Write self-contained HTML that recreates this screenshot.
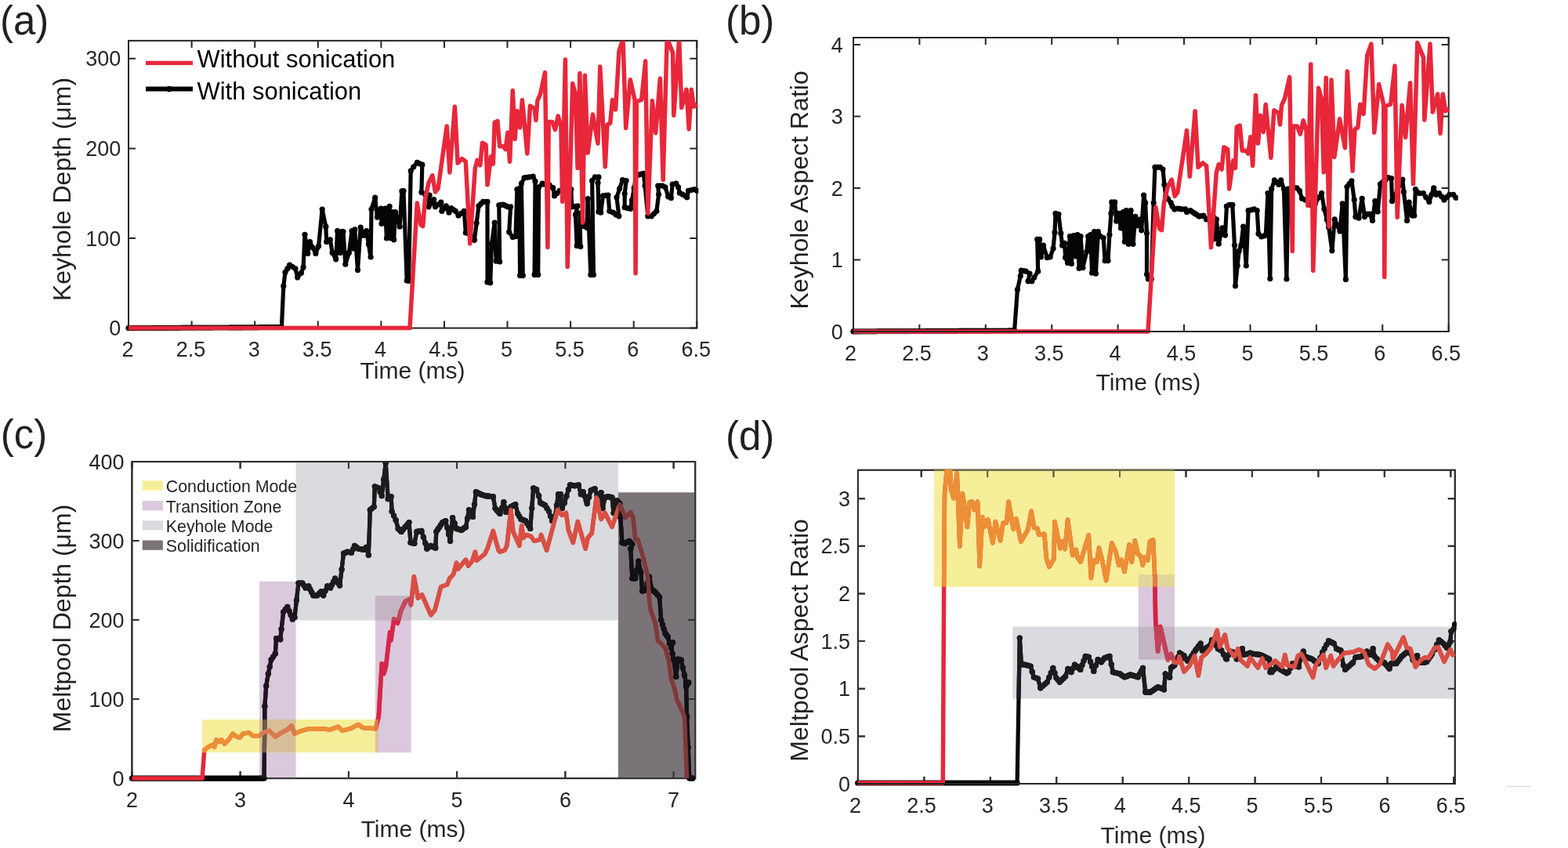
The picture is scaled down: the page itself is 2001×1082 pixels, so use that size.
<!DOCTYPE html>
<html><head><meta charset="utf-8"><title>Keyhole and meltpool plots</title><style>html,body{margin:0;padding:0;background:#fff;overflow:hidden}svg{display:block}</style></head><body>
<svg width="2001" height="1082" viewBox="0 0 2001 1082" font-family='"Liberation Sans", Arial, Helvetica, sans-serif'><defs><clipPath id="k1"><rect x="159.5" y="51.9" width="731.8" height="370.7"/></clipPath><clipPath id="k2"><rect x="1084.5" y="48.0" width="776.2" height="379.0"/></clipPath><clipPath id="k3"><rect x="163.9" y="589.1" width="725.3" height="408.0"/></clipPath><clipPath id="k4"><rect x="258.1" y="918.0" width="224.7" height="42.2"/></clipPath><clipPath id="k5"><rect x="331.1" y="742.0" width="46.5" height="251.1"/></clipPath><clipPath id="k6"><rect x="377.6" y="589.1" width="411.3" height="202.5"/></clipPath><clipPath id="k7"><rect x="478.9" y="760.2" width="45.8" height="200.0"/></clipPath><clipPath id="k8"><rect x="788.9" y="628.3" width="98.3" height="364.8"/></clipPath><clipPath id="k9"><rect x="331.1" y="918.0" width="46.5" height="42.2"/></clipPath><clipPath id="k10"><rect x="478.9" y="918.0" width="3.9" height="42.2"/></clipPath><clipPath id="k11"><rect x="478.9" y="760.2" width="45.8" height="31.4"/></clipPath><clipPath id="k12"><rect x="1090.4" y="599.8" width="768.4" height="404.2"/></clipPath><clipPath id="k13"><rect x="1191.9" y="598.8" width="307.2" height="150.0"/></clipPath><clipPath id="k14"><rect x="1452.9" y="733.1" width="46.2" height="108.5"/></clipPath><clipPath id="k15"><rect x="1292.3" y="799.6" width="564.5" height="91.9"/></clipPath><clipPath id="k16"><rect x="1452.9" y="733.1" width="46.2" height="15.7"/></clipPath><clipPath id="k17"><rect x="1452.9" y="799.6" width="46.2" height="42.0"/></clipPath></defs><rect width="2001" height="1082" fill="#fff"/><g fill="#231f20" font-size="51"><text x="0" y="43.8">(a)</text><text x="926" y="43.8">(b)</text><text x="0.8" y="572.2">(c)</text><text x="926" y="573.8">(d)</text></g>
<g fill="#262626" font-size="30"><text x="526.5" y="483.2" text-anchor="middle">Time (ms)</text><text x="1465.4" y="498.4" text-anchor="middle">Time (ms)</text><text x="527.6" y="1068.4" text-anchor="middle">Time (ms)</text><text x="1471.5" y="1075.6" text-anchor="middle">Time (ms)</text></g>
<g fill="#231f20" font-size="32"><text transform="translate(89.9,241.5) rotate(-90)" text-anchor="middle">Keyhole Depth (μm)</text><text transform="translate(1031,242.4) rotate(-90)" text-anchor="middle">Keyhole Aspect Ratio</text><text transform="translate(89.9,788.9) rotate(-90)" text-anchor="middle">Meltpool Depth (μm)</text><text transform="translate(1031.4,816.9) rotate(-90)" text-anchor="middle">Meltpool Aspect Ratio</text></g>
<g stroke="#262626" stroke-width="2" fill="none"><rect x="164.0" y="51.9" width="725.3" height="366.7"/><path d="M164.0 418.6V409.6M164.0 51.9V60.9"/><path d="M244.6 418.6V409.6M244.6 51.9V60.9"/><path d="M325.2 418.6V409.6M325.2 51.9V60.9"/><path d="M405.8 418.6V409.6M405.8 51.9V60.9"/><path d="M486.4 418.6V409.6M486.4 51.9V60.9"/><path d="M567.0 418.6V409.6M567.0 51.9V60.9"/><path d="M647.5 418.6V409.6M647.5 51.9V60.9"/><path d="M728.1 418.6V409.6M728.1 51.9V60.9"/><path d="M808.7 418.6V409.6M808.7 51.9V60.9"/><path d="M889.3 418.6V409.6M889.3 51.9V60.9"/><path d="M164.0 418.6H173.0M889.3 418.6H880.3"/><path d="M164.0 304.0H173.0M889.3 304.0H880.3"/><path d="M164.0 189.4H173.0M889.3 189.4H880.3"/><path d="M164.0 74.8H173.0M889.3 74.8H880.3"/></g><g fill="#262626" font-size="27"><text x="163.0" y="455.4" text-anchor="middle">2</text><text x="243.6" y="455.4" text-anchor="middle">2.5</text><text x="324.2" y="455.4" text-anchor="middle">3</text><text x="404.8" y="455.4" text-anchor="middle">3.5</text><text x="485.4" y="455.4" text-anchor="middle">4</text><text x="566.0" y="455.4" text-anchor="middle">4.5</text><text x="646.5" y="455.4" text-anchor="middle">5</text><text x="727.1" y="455.4" text-anchor="middle">5.5</text><text x="807.7" y="455.4" text-anchor="middle">6</text><text x="888.3" y="455.4" text-anchor="middle">6.5</text><text x="154.2" y="428.2" text-anchor="end">0</text><text x="154.2" y="313.6" text-anchor="end">100</text><text x="154.2" y="199.0" text-anchor="end">200</text><text x="154.2" y="84.4" text-anchor="end">300</text></g>
<g clip-path="url(#k1)">
<polyline points="164.0,418.6 359.4,417.6 361.8,365.0 364.0,347.4 369.6,338.2 377.0,342.8 379.7,353.9 384.4,348.3 387.1,340.9 389.0,299.3 392.7,323.4 395.5,308.6 402.9,323.4 406.6,314.1 411.2,267.0 415.8,289.2 416.7,308.6 421.3,305.8 424.1,322.4 428.7,330.8 430.6,294.7 434.3,322.4 436.1,295.6 438.0,295.6 440.8,337.2 445.4,322.4 449.1,294.7 450.9,316.9 452.8,292.9 456.5,344.6 460.2,290.1 463.9,300.3 467.6,294.7 473.1,328.0 474.0,267.0 478.7,252.2 481.4,277.1 486.1,266.0 487.0,285.5 491.6,266.0 493.4,304.0 497.1,263.3 499.0,304.0 500.8,270.7 502.7,305.8 504.5,270.7 510.1,289.2 512.9,243.9 515.0,243.5 519.2,358.0 521.6,358.5 524.2,218.1 527.7,213.0 532.3,207.4 538.8,210.2 537.9,245.3 542.5,248.0 548.1,249.0 547.1,263.8 553.6,254.5 555.5,263.8 562.8,258.2 563.8,269.3 569.3,262.8 573.0,271.2 575.8,265.6 581.3,269.3 585.0,274.9 592.4,269.3 594.3,297.0 599.8,298.0 605.4,306.3 610.9,262.8 616.5,257.3 622.0,257.3 622.0,359.9 625.7,360.8 627.5,310.9 631.2,284.1 633.1,333.1 637.7,334.0 636.8,261.9 642.3,261.0 647.9,263.8 651.6,263.8 649.7,296.1 654.3,302.6 658.0,301.7 659.9,241.6 662.7,240.7 663.6,351.6 667.3,351.6 665.4,234.2 669.1,226.8 675.6,225.9 680.2,225.0 683.0,231.4 682.1,350.6 686.7,350.6 687.6,238.8 692.2,234.2 694.1,235.1 701.1,236.0 705.7,239.7 707.6,249.9 714.0,243.4 728.8,241.6 729.7,263.8 737.1,262.8 734.4,273.9 736.2,313.7 740.8,314.6 739.9,272.1 745.5,288.7 749.1,290.6 750.1,253.6 753.8,350.6 757.5,350.6 755.6,230.5 759.3,225.9 763.9,225.9 763.0,233.3 763.9,270.2 766.7,271.2 769.5,249.9 776.0,249.0 777.8,269.3 782.4,271.2 786.1,273.9 789.8,275.8 787.0,251.8 794.4,229.6 799.1,230.5 797.2,247.1 797.2,264.7 804.6,266.5 806.5,255.5 812.0,224.0 821.2,221.3 823.1,237.0 826.8,275.8 831.4,275.8 837.9,269.3 840.6,248.1 839.7,237.0 845.3,237.0 849.0,238.8 852.7,250.8 856.4,252.7 858.2,235.1 862.8,234.2 865.6,238.8 867.4,246.2 874.8,249.9 876.7,251.8 878.5,243.4 885.9,241.6 889.6,243.4" fill="none" stroke="#050505" stroke-width="5.2" stroke-linejoin="round" stroke-linecap="butt"/>
<g fill="#050505"><circle cx="164.0" cy="418.6" r="3.6"/><circle cx="167.4" cy="418.6" r="3.6"/><circle cx="170.9" cy="418.6" r="3.6"/><circle cx="174.3" cy="418.5" r="3.6"/><circle cx="177.7" cy="418.5" r="3.6"/><circle cx="181.1" cy="418.5" r="3.6"/><circle cx="184.6" cy="418.5" r="3.6"/><circle cx="188.0" cy="418.5" r="3.6"/><circle cx="191.4" cy="418.5" r="3.6"/><circle cx="194.9" cy="418.4" r="3.6"/><circle cx="198.3" cy="418.4" r="3.6"/><circle cx="201.7" cy="418.4" r="3.6"/><circle cx="205.1" cy="418.4" r="3.6"/><circle cx="208.6" cy="418.4" r="3.6"/><circle cx="212.0" cy="418.4" r="3.6"/><circle cx="215.4" cy="418.3" r="3.6"/><circle cx="218.8" cy="418.3" r="3.6"/><circle cx="222.3" cy="418.3" r="3.6"/><circle cx="225.7" cy="418.3" r="3.6"/><circle cx="229.1" cy="418.3" r="3.6"/><circle cx="232.6" cy="418.2" r="3.6"/><circle cx="236.0" cy="418.2" r="3.6"/><circle cx="239.4" cy="418.2" r="3.6"/><circle cx="242.8" cy="418.2" r="3.6"/><circle cx="246.3" cy="418.2" r="3.6"/><circle cx="249.7" cy="418.2" r="3.6"/><circle cx="253.1" cy="418.1" r="3.6"/><circle cx="256.6" cy="418.1" r="3.6"/><circle cx="260.0" cy="418.1" r="3.6"/><circle cx="263.4" cy="418.1" r="3.6"/><circle cx="266.8" cy="418.1" r="3.6"/><circle cx="270.3" cy="418.1" r="3.6"/><circle cx="273.7" cy="418.0" r="3.6"/><circle cx="277.1" cy="418.0" r="3.6"/><circle cx="280.6" cy="418.0" r="3.6"/><circle cx="284.0" cy="418.0" r="3.6"/><circle cx="287.4" cy="418.0" r="3.6"/><circle cx="290.8" cy="418.0" r="3.6"/><circle cx="294.3" cy="417.9" r="3.6"/><circle cx="297.7" cy="417.9" r="3.6"/><circle cx="301.1" cy="417.9" r="3.6"/><circle cx="304.6" cy="417.9" r="3.6"/><circle cx="308.0" cy="417.9" r="3.6"/><circle cx="311.4" cy="417.8" r="3.6"/><circle cx="314.8" cy="417.8" r="3.6"/><circle cx="318.3" cy="417.8" r="3.6"/><circle cx="321.7" cy="417.8" r="3.6"/><circle cx="325.1" cy="417.8" r="3.6"/><circle cx="328.5" cy="417.8" r="3.6"/><circle cx="332.0" cy="417.7" r="3.6"/><circle cx="335.4" cy="417.7" r="3.6"/><circle cx="338.8" cy="417.7" r="3.6"/><circle cx="342.3" cy="417.7" r="3.6"/><circle cx="345.7" cy="417.7" r="3.6"/><circle cx="349.1" cy="417.7" r="3.6"/><circle cx="352.5" cy="417.6" r="3.6"/><circle cx="356.0" cy="417.6" r="3.6"/><circle cx="359.4" cy="417.6" r="3.6"/><circle cx="361.8" cy="365.0" r="3.6"/><circle cx="364.0" cy="347.4" r="3.6"/><circle cx="366.8" cy="342.8" r="3.6"/><circle cx="369.6" cy="338.2" r="3.6"/><circle cx="373.3" cy="340.5" r="3.6"/><circle cx="377.0" cy="342.8" r="3.6"/><circle cx="379.7" cy="353.9" r="3.6"/><circle cx="384.4" cy="348.3" r="3.6"/><circle cx="387.1" cy="340.9" r="3.6"/><circle cx="389.0" cy="299.3" r="3.6"/><circle cx="392.7" cy="323.4" r="3.6"/><circle cx="395.5" cy="308.6" r="3.6"/><circle cx="399.2" cy="316.0" r="3.6"/><circle cx="402.9" cy="323.4" r="3.6"/><circle cx="406.6" cy="314.1" r="3.6"/><circle cx="411.2" cy="267.0" r="3.6"/><circle cx="415.8" cy="289.2" r="3.6"/><circle cx="416.7" cy="308.6" r="3.6"/><circle cx="421.3" cy="305.8" r="3.6"/><circle cx="424.1" cy="322.4" r="3.6"/><circle cx="428.7" cy="330.8" r="3.6"/><circle cx="430.6" cy="294.7" r="3.6"/><circle cx="434.3" cy="322.4" r="3.6"/><circle cx="436.1" cy="295.6" r="3.6"/><circle cx="438.0" cy="295.6" r="3.6"/><circle cx="440.8" cy="337.2" r="3.6"/><circle cx="445.4" cy="322.4" r="3.6"/><circle cx="449.1" cy="294.7" r="3.6"/><circle cx="450.9" cy="316.9" r="3.6"/><circle cx="452.8" cy="292.9" r="3.6"/><circle cx="456.5" cy="344.6" r="3.6"/><circle cx="460.2" cy="290.1" r="3.6"/><circle cx="463.9" cy="300.3" r="3.6"/><circle cx="467.6" cy="294.7" r="3.6"/><circle cx="470.4" cy="311.4" r="3.6"/><circle cx="473.1" cy="328.0" r="3.6"/><circle cx="474.0" cy="267.0" r="3.6"/><circle cx="478.7" cy="252.2" r="3.6"/><circle cx="481.4" cy="277.1" r="3.6"/><circle cx="486.1" cy="266.0" r="3.6"/><circle cx="487.0" cy="285.5" r="3.6"/><circle cx="491.6" cy="266.0" r="3.6"/><circle cx="493.4" cy="304.0" r="3.6"/><circle cx="497.1" cy="263.3" r="3.6"/><circle cx="499.0" cy="304.0" r="3.6"/><circle cx="500.8" cy="270.7" r="3.6"/><circle cx="502.7" cy="305.8" r="3.6"/><circle cx="504.5" cy="270.7" r="3.6"/><circle cx="507.3" cy="279.9" r="3.6"/><circle cx="510.1" cy="289.2" r="3.6"/><circle cx="512.9" cy="243.9" r="3.6"/><circle cx="515.0" cy="243.5" r="3.6"/><circle cx="519.2" cy="358.0" r="3.6"/><circle cx="521.6" cy="358.5" r="3.6"/><circle cx="524.2" cy="218.1" r="3.6"/><circle cx="527.7" cy="213.0" r="3.6"/><circle cx="532.3" cy="207.4" r="3.6"/><circle cx="535.5" cy="208.8" r="3.6"/><circle cx="538.8" cy="210.2" r="3.6"/><circle cx="537.9" cy="245.3" r="3.6"/><circle cx="542.5" cy="248.0" r="3.6"/><circle cx="545.3" cy="248.5" r="3.6"/><circle cx="548.1" cy="249.0" r="3.6"/><circle cx="547.1" cy="263.8" r="3.6"/><circle cx="550.4" cy="259.1" r="3.6"/><circle cx="553.6" cy="254.5" r="3.6"/><circle cx="555.5" cy="263.8" r="3.6"/><circle cx="559.1" cy="261.0" r="3.6"/><circle cx="562.8" cy="258.2" r="3.6"/><circle cx="563.8" cy="269.3" r="3.6"/><circle cx="566.5" cy="266.1" r="3.6"/><circle cx="569.3" cy="262.8" r="3.6"/><circle cx="573.0" cy="271.2" r="3.6"/><circle cx="575.8" cy="265.6" r="3.6"/><circle cx="578.5" cy="267.5" r="3.6"/><circle cx="581.3" cy="269.3" r="3.6"/><circle cx="585.0" cy="274.9" r="3.6"/><circle cx="588.7" cy="272.1" r="3.6"/><circle cx="592.4" cy="269.3" r="3.6"/><circle cx="594.3" cy="297.0" r="3.6"/><circle cx="597.0" cy="297.5" r="3.6"/><circle cx="599.8" cy="298.0" r="3.6"/><circle cx="602.6" cy="302.1" r="3.6"/><circle cx="605.4" cy="306.3" r="3.6"/><circle cx="608.1" cy="284.6" r="3.6"/><circle cx="610.9" cy="262.8" r="3.6"/><circle cx="613.7" cy="260.1" r="3.6"/><circle cx="616.5" cy="257.3" r="3.6"/><circle cx="619.2" cy="257.3" r="3.6"/><circle cx="622.0" cy="257.3" r="3.6"/><circle cx="622.0" cy="359.9" r="3.6"/><circle cx="625.7" cy="360.8" r="3.6"/><circle cx="627.5" cy="310.9" r="3.6"/><circle cx="631.2" cy="284.1" r="3.6"/><circle cx="633.1" cy="333.1" r="3.6"/><circle cx="637.7" cy="334.0" r="3.6"/><circle cx="636.8" cy="261.9" r="3.6"/><circle cx="639.5" cy="261.4" r="3.6"/><circle cx="642.3" cy="261.0" r="3.6"/><circle cx="645.1" cy="262.4" r="3.6"/><circle cx="647.9" cy="263.8" r="3.6"/><circle cx="651.6" cy="263.8" r="3.6"/><circle cx="649.7" cy="296.1" r="3.6"/><circle cx="654.3" cy="302.6" r="3.6"/><circle cx="658.0" cy="301.7" r="3.6"/><circle cx="659.9" cy="241.6" r="3.6"/><circle cx="662.7" cy="240.7" r="3.6"/><circle cx="663.6" cy="351.6" r="3.6"/><circle cx="667.3" cy="351.6" r="3.6"/><circle cx="665.4" cy="234.2" r="3.6"/><circle cx="669.1" cy="226.8" r="3.6"/><circle cx="672.4" cy="226.4" r="3.6"/><circle cx="675.6" cy="225.9" r="3.6"/><circle cx="680.2" cy="225.0" r="3.6"/><circle cx="683.0" cy="231.4" r="3.6"/><circle cx="682.1" cy="350.6" r="3.6"/><circle cx="686.7" cy="350.6" r="3.6"/><circle cx="687.6" cy="238.8" r="3.6"/><circle cx="692.2" cy="234.2" r="3.6"/><circle cx="694.1" cy="235.1" r="3.6"/><circle cx="697.6" cy="235.6" r="3.6"/><circle cx="701.1" cy="236.0" r="3.6"/><circle cx="705.7" cy="239.7" r="3.6"/><circle cx="707.6" cy="249.9" r="3.6"/><circle cx="710.8" cy="246.7" r="3.6"/><circle cx="714.0" cy="243.4" r="3.6"/><circle cx="717.7" cy="242.9" r="3.6"/><circle cx="721.4" cy="242.5" r="3.6"/><circle cx="725.1" cy="242.1" r="3.6"/><circle cx="728.8" cy="241.6" r="3.6"/><circle cx="729.7" cy="263.8" r="3.6"/><circle cx="733.4" cy="263.3" r="3.6"/><circle cx="737.1" cy="262.8" r="3.6"/><circle cx="734.4" cy="273.9" r="3.6"/><circle cx="736.2" cy="313.7" r="3.6"/><circle cx="740.8" cy="314.6" r="3.6"/><circle cx="739.9" cy="272.1" r="3.6"/><circle cx="742.7" cy="280.4" r="3.6"/><circle cx="745.5" cy="288.7" r="3.6"/><circle cx="749.1" cy="290.6" r="3.6"/><circle cx="750.1" cy="253.6" r="3.6"/><circle cx="753.8" cy="350.6" r="3.6"/><circle cx="757.5" cy="350.6" r="3.6"/><circle cx="755.6" cy="230.5" r="3.6"/><circle cx="759.3" cy="225.9" r="3.6"/><circle cx="763.9" cy="225.9" r="3.6"/><circle cx="763.0" cy="233.3" r="3.6"/><circle cx="763.9" cy="270.2" r="3.6"/><circle cx="766.7" cy="271.2" r="3.6"/><circle cx="769.5" cy="249.9" r="3.6"/><circle cx="772.8" cy="249.4" r="3.6"/><circle cx="776.0" cy="249.0" r="3.6"/><circle cx="777.8" cy="269.3" r="3.6"/><circle cx="782.4" cy="271.2" r="3.6"/><circle cx="786.1" cy="273.9" r="3.6"/><circle cx="789.8" cy="275.8" r="3.6"/><circle cx="787.0" cy="251.8" r="3.6"/><circle cx="790.7" cy="240.7" r="3.6"/><circle cx="794.4" cy="229.6" r="3.6"/><circle cx="799.1" cy="230.5" r="3.6"/><circle cx="797.2" cy="247.1" r="3.6"/><circle cx="797.2" cy="264.7" r="3.6"/><circle cx="800.9" cy="265.6" r="3.6"/><circle cx="804.6" cy="266.5" r="3.6"/><circle cx="806.5" cy="255.5" r="3.6"/><circle cx="809.2" cy="239.8" r="3.6"/><circle cx="812.0" cy="224.0" r="3.6"/><circle cx="815.1" cy="223.1" r="3.6"/><circle cx="818.1" cy="222.2" r="3.6"/><circle cx="821.2" cy="221.3" r="3.6"/><circle cx="823.1" cy="237.0" r="3.6"/><circle cx="826.8" cy="275.8" r="3.6"/><circle cx="831.4" cy="275.8" r="3.6"/><circle cx="834.6" cy="272.6" r="3.6"/><circle cx="837.9" cy="269.3" r="3.6"/><circle cx="840.6" cy="248.1" r="3.6"/><circle cx="839.7" cy="237.0" r="3.6"/><circle cx="842.5" cy="237.0" r="3.6"/><circle cx="845.3" cy="237.0" r="3.6"/><circle cx="849.0" cy="238.8" r="3.6"/><circle cx="852.7" cy="250.8" r="3.6"/><circle cx="856.4" cy="252.7" r="3.6"/><circle cx="858.2" cy="235.1" r="3.6"/><circle cx="862.8" cy="234.2" r="3.6"/><circle cx="865.6" cy="238.8" r="3.6"/><circle cx="867.4" cy="246.2" r="3.6"/><circle cx="871.1" cy="248.1" r="3.6"/><circle cx="874.8" cy="249.9" r="3.6"/><circle cx="876.7" cy="251.8" r="3.6"/><circle cx="878.5" cy="243.4" r="3.6"/><circle cx="882.2" cy="242.5" r="3.6"/><circle cx="885.9" cy="241.6" r="3.6"/><circle cx="889.6" cy="243.4" r="3.6"/></g>
<polyline points="164.0,418.6 523.0,418.6 532.3,259.1 537.0,286.9 539.7,288.7 542.5,253.6 547.1,233.0 551.8,223.8 555.5,245.0 559.1,240.4 570.2,160.9 573.9,220.0 580.4,136.0 584.1,208.0 589.6,202.5 594.3,206.2 599.8,310.9 606.3,214.8 609.1,204.3 612.8,210.8 615.5,182.2 620.1,184.9 622.0,235.8 626.6,199.7 629.4,209.0 631.2,156.3 634.9,154.4 637.7,186.8 642.3,186.8 645.1,190.5 647.9,169.2 650.6,206.2 654.3,115.6 657.1,177.5 659.9,141.5 663.6,162.8 666.4,127.6 672.8,196.0 676.5,135.0 682.1,138.7 683.9,153.5 685.8,128.6 689.5,120.2 695.5,92.5 698.9,315.5 700.2,155.4 704.8,155.4 708.5,165.5 712.2,148.0 715.9,161.0 717.7,257.3 721.4,75.9 724.2,340.5 730.7,106.4 734.4,120.2 737.1,214.5 739.9,93.4 743.6,284.1 746.4,96.2 750.1,195.1 756.5,146.1 763.0,183.1 765.8,85.1 772.3,212.7 775.0,159.1 778.7,157.2 781.5,127.6 785.6,139.8 790.0,65.0 795.0,50.0 798.7,163.5 804.3,101.7 810.1,127.6 811.1,348.8 812.4,129.8 818.7,127.3 823.7,78.0 826.8,272.1 832.4,128.6 836.7,169.7 842.4,99.9 846.2,229.3 851.2,48.4 858.6,67.4 859.8,147.3 866.7,50.0 869.8,137.3 876.0,114.2 879.2,164.7 882.3,114.2 885.4,136.0 889.8,133.5" fill="none" stroke="#e8273a" stroke-width="5.5" stroke-linejoin="round" stroke-linecap="butt"/>
</g>
<line x1="186" y1="80.4" x2="246" y2="80.4" stroke="#e8273a" stroke-width="5.2"/>
<line x1="186" y1="113.6" x2="246" y2="113.6" stroke="#000" stroke-width="6"/><circle cx="216" cy="113.6" r="3.8" fill="#000"/>
<g fill="#000" font-size="30.95"><text x="251.5" y="86.1">Without sonication</text><text x="251.5" y="126.7">With sonication</text></g>
<g stroke="#262626" stroke-width="2" fill="none"><rect x="1089.0" y="48.0" width="759.7" height="375.0"/><path d="M1089.0 423.0V414.0M1089.0 48.0V57.0"/><path d="M1173.4 423.0V414.0M1173.4 48.0V57.0"/><path d="M1257.8 423.0V414.0M1257.8 48.0V57.0"/><path d="M1342.2 423.0V414.0M1342.2 48.0V57.0"/><path d="M1426.6 423.0V414.0M1426.6 48.0V57.0"/><path d="M1511.0 423.0V414.0M1511.0 48.0V57.0"/><path d="M1595.5 423.0V414.0M1595.5 48.0V57.0"/><path d="M1679.9 423.0V414.0M1679.9 48.0V57.0"/><path d="M1764.3 423.0V414.0M1764.3 48.0V57.0"/><path d="M1848.7 423.0V414.0M1848.7 48.0V57.0"/><path d="M1089.0 423.0H1098.0M1848.7 423.0H1839.7"/><path d="M1089.0 331.5H1098.0M1848.7 331.5H1839.7"/><path d="M1089.0 240.1H1098.0M1848.7 240.1H1839.7"/><path d="M1089.0 148.6H1098.0M1848.7 148.6H1839.7"/><path d="M1089.0 57.1H1098.0M1848.7 57.1H1839.7"/></g><g fill="#262626" font-size="27"><text x="1085.5" y="459.8" text-anchor="middle">2</text><text x="1169.9" y="459.8" text-anchor="middle">2.5</text><text x="1254.3" y="459.8" text-anchor="middle">3</text><text x="1338.7" y="459.8" text-anchor="middle">3.5</text><text x="1423.1" y="459.8" text-anchor="middle">4</text><text x="1507.5" y="459.8" text-anchor="middle">4.5</text><text x="1592.0" y="459.8" text-anchor="middle">5</text><text x="1676.4" y="459.8" text-anchor="middle">5.5</text><text x="1760.8" y="459.8" text-anchor="middle">6</text><text x="1845.2" y="459.8" text-anchor="middle">6.5</text><text x="1075.8" y="432.6" text-anchor="end">0</text><text x="1075.8" y="341.1" text-anchor="end">1</text><text x="1075.8" y="249.7" text-anchor="end">2</text><text x="1075.8" y="158.2" text-anchor="end">3</text><text x="1075.8" y="66.7" text-anchor="end">4</text></g>
<g clip-path="url(#k2)">
<polyline points="1089.0,422.9 1294.6,421.9 1298.4,369.5 1302.3,352.0 1303.3,345.2 1309.1,346.2 1314.0,349.1 1312.0,358.8 1316.9,358.8 1319.8,354.0 1324.7,346.2 1323.7,305.4 1326.6,305.4 1328.5,327.8 1331.5,313.2 1336.3,328.7 1340.2,327.8 1344.1,317.1 1346.0,296.7 1347.0,272.4 1350.9,273.4 1353.8,297.7 1355.7,313.2 1358.6,310.3 1359.6,328.7 1362.5,335.5 1365.4,301.6 1367.4,336.5 1370.3,300.6 1373.2,326.8 1375.1,299.6 1377.1,342.3 1379.0,301.6 1381.9,341.4 1386.8,321.0 1388.7,301.6 1391.7,299.6 1393.6,348.2 1396.5,295.7 1398.4,349.1 1401.4,295.7 1404.3,301.6 1408.2,303.5 1410.1,332.6 1414.0,332.6 1415.9,299.6 1417.9,272.4 1418.8,257.9 1422.7,257.9 1424.7,282.1 1427.6,272.4 1430.5,290.9 1433.4,270.5 1435.3,308.3 1437.3,268.5 1440.2,311.3 1443.1,268.5 1446.0,311.3 1448.9,276.3 1451.8,288.0 1454.8,280.2 1456.7,293.8 1459.6,249.1 1461.6,258.8 1463.5,297.7 1463.5,350.1 1465.4,355.9 1469.3,355.9 1472.2,258.8 1473.9,213.3 1480.3,213.3 1484.0,216.0 1485.9,235.5 1487.7,250.2 1490.5,253.9 1494.2,258.6 1496.0,263.2 1498.8,266.9 1502.5,266.0 1508.1,266.9 1512.7,266.9 1514.5,270.6 1519.1,268.7 1524.7,272.4 1530.2,276.1 1535.8,275.2 1539.5,279.8 1545.0,278.0 1548.7,277.0 1550.0,305.0 1552.4,279.8 1555.2,311.2 1559.8,290.9 1563.5,300.1 1565.4,263.2 1569.1,261.3 1572.8,261.3 1575.5,313.1 1576.5,364.8 1579.2,339.0 1581.1,320.5 1583.8,313.1 1586.6,289.1 1590.3,339.0 1593.1,268.7 1600.5,266.9 1604.2,268.7 1606.0,298.3 1609.7,302.0 1615.3,300.1 1618.0,246.5 1620.8,355.6 1622.7,241.0 1626.4,229.9 1631.9,235.5 1634.7,229.9 1638.4,241.0 1641.9,356.0 1643.9,241.0 1648.5,239.1 1655.0,239.9 1658.3,243.3 1661.6,253.3 1665.8,254.9 1673.3,261.6 1678.3,259.9 1683.3,251.6 1686.6,246.6 1689.9,266.6 1693.3,279.9 1695.7,289.9 1699.9,319.8 1703.2,279.9 1709.9,294.9 1713.2,259.9 1717.4,356.4 1719.0,238.3 1724.9,230.8 1728.2,254.9 1729.9,276.6 1734.0,278.2 1738.2,253.3 1741.5,276.6 1744.8,273.2 1748.2,273.2 1751.5,281.5 1754.8,256.6 1758.2,269.9 1761.5,234.9 1771.5,226.6 1775.6,227.5 1776.5,256.6 1789.8,229.1 1791.4,244.9 1795.6,281.5 1798.1,258.2 1802.3,274.9 1804.8,274.9 1806.4,241.6 1811.4,246.6 1816.4,246.6 1819.7,251.6 1823.9,257.4 1829.7,239.9 1833.0,248.3 1836.4,246.6 1843.0,254.9 1849.7,248.3 1854.7,248.3 1858.0,252.4" fill="none" stroke="#050505" stroke-width="5.2" stroke-linejoin="round" stroke-linecap="butt"/>
<g fill="#050505"><circle cx="1089.0" cy="422.9" r="3.6"/><circle cx="1092.5" cy="422.9" r="3.6"/><circle cx="1096.0" cy="422.9" r="3.6"/><circle cx="1099.5" cy="422.8" r="3.6"/><circle cx="1102.9" cy="422.8" r="3.6"/><circle cx="1106.4" cy="422.8" r="3.6"/><circle cx="1109.9" cy="422.8" r="3.6"/><circle cx="1113.4" cy="422.8" r="3.6"/><circle cx="1116.9" cy="422.8" r="3.6"/><circle cx="1120.4" cy="422.7" r="3.6"/><circle cx="1123.8" cy="422.7" r="3.6"/><circle cx="1127.3" cy="422.7" r="3.6"/><circle cx="1130.8" cy="422.7" r="3.6"/><circle cx="1134.3" cy="422.7" r="3.6"/><circle cx="1137.8" cy="422.7" r="3.6"/><circle cx="1141.3" cy="422.6" r="3.6"/><circle cx="1144.8" cy="422.6" r="3.6"/><circle cx="1148.2" cy="422.6" r="3.6"/><circle cx="1151.7" cy="422.6" r="3.6"/><circle cx="1155.2" cy="422.6" r="3.6"/><circle cx="1158.7" cy="422.6" r="3.6"/><circle cx="1162.2" cy="422.5" r="3.6"/><circle cx="1165.7" cy="422.5" r="3.6"/><circle cx="1169.1" cy="422.5" r="3.6"/><circle cx="1172.6" cy="422.5" r="3.6"/><circle cx="1176.1" cy="422.5" r="3.6"/><circle cx="1179.6" cy="422.5" r="3.6"/><circle cx="1183.1" cy="422.4" r="3.6"/><circle cx="1186.6" cy="422.4" r="3.6"/><circle cx="1190.1" cy="422.4" r="3.6"/><circle cx="1193.5" cy="422.4" r="3.6"/><circle cx="1197.0" cy="422.4" r="3.6"/><circle cx="1200.5" cy="422.4" r="3.6"/><circle cx="1204.0" cy="422.3" r="3.6"/><circle cx="1207.5" cy="422.3" r="3.6"/><circle cx="1211.0" cy="422.3" r="3.6"/><circle cx="1214.5" cy="422.3" r="3.6"/><circle cx="1217.9" cy="422.3" r="3.6"/><circle cx="1221.4" cy="422.3" r="3.6"/><circle cx="1224.9" cy="422.2" r="3.6"/><circle cx="1228.4" cy="422.2" r="3.6"/><circle cx="1231.9" cy="422.2" r="3.6"/><circle cx="1235.4" cy="422.2" r="3.6"/><circle cx="1238.8" cy="422.2" r="3.6"/><circle cx="1242.3" cy="422.2" r="3.6"/><circle cx="1245.8" cy="422.1" r="3.6"/><circle cx="1249.3" cy="422.1" r="3.6"/><circle cx="1252.8" cy="422.1" r="3.6"/><circle cx="1256.3" cy="422.1" r="3.6"/><circle cx="1259.8" cy="422.1" r="3.6"/><circle cx="1263.2" cy="422.1" r="3.6"/><circle cx="1266.7" cy="422.0" r="3.6"/><circle cx="1270.2" cy="422.0" r="3.6"/><circle cx="1273.7" cy="422.0" r="3.6"/><circle cx="1277.2" cy="422.0" r="3.6"/><circle cx="1280.7" cy="422.0" r="3.6"/><circle cx="1284.1" cy="422.0" r="3.6"/><circle cx="1287.6" cy="421.9" r="3.6"/><circle cx="1291.1" cy="421.9" r="3.6"/><circle cx="1294.6" cy="421.9" r="3.6"/><circle cx="1298.4" cy="369.5" r="3.6"/><circle cx="1302.3" cy="352.0" r="3.6"/><circle cx="1303.3" cy="345.2" r="3.6"/><circle cx="1306.2" cy="345.7" r="3.6"/><circle cx="1309.1" cy="346.2" r="3.6"/><circle cx="1314.0" cy="349.1" r="3.6"/><circle cx="1312.0" cy="358.8" r="3.6"/><circle cx="1316.9" cy="358.8" r="3.6"/><circle cx="1319.8" cy="354.0" r="3.6"/><circle cx="1324.7" cy="346.2" r="3.6"/><circle cx="1323.7" cy="305.4" r="3.6"/><circle cx="1326.6" cy="305.4" r="3.6"/><circle cx="1328.5" cy="327.8" r="3.6"/><circle cx="1331.5" cy="313.2" r="3.6"/><circle cx="1336.3" cy="328.7" r="3.6"/><circle cx="1340.2" cy="327.8" r="3.6"/><circle cx="1344.1" cy="317.1" r="3.6"/><circle cx="1346.0" cy="296.7" r="3.6"/><circle cx="1347.0" cy="272.4" r="3.6"/><circle cx="1350.9" cy="273.4" r="3.6"/><circle cx="1353.8" cy="297.7" r="3.6"/><circle cx="1355.7" cy="313.2" r="3.6"/><circle cx="1358.6" cy="310.3" r="3.6"/><circle cx="1359.6" cy="328.7" r="3.6"/><circle cx="1362.5" cy="335.5" r="3.6"/><circle cx="1365.4" cy="301.6" r="3.6"/><circle cx="1367.4" cy="336.5" r="3.6"/><circle cx="1370.3" cy="300.6" r="3.6"/><circle cx="1373.2" cy="326.8" r="3.6"/><circle cx="1375.1" cy="299.6" r="3.6"/><circle cx="1377.1" cy="342.3" r="3.6"/><circle cx="1379.0" cy="301.6" r="3.6"/><circle cx="1381.9" cy="341.4" r="3.6"/><circle cx="1386.8" cy="321.0" r="3.6"/><circle cx="1388.7" cy="301.6" r="3.6"/><circle cx="1391.7" cy="299.6" r="3.6"/><circle cx="1393.6" cy="348.2" r="3.6"/><circle cx="1396.5" cy="295.7" r="3.6"/><circle cx="1398.4" cy="349.1" r="3.6"/><circle cx="1401.4" cy="295.7" r="3.6"/><circle cx="1404.3" cy="301.6" r="3.6"/><circle cx="1408.2" cy="303.5" r="3.6"/><circle cx="1410.1" cy="332.6" r="3.6"/><circle cx="1414.0" cy="332.6" r="3.6"/><circle cx="1415.9" cy="299.6" r="3.6"/><circle cx="1417.9" cy="272.4" r="3.6"/><circle cx="1418.8" cy="257.9" r="3.6"/><circle cx="1422.7" cy="257.9" r="3.6"/><circle cx="1424.7" cy="282.1" r="3.6"/><circle cx="1427.6" cy="272.4" r="3.6"/><circle cx="1430.5" cy="290.9" r="3.6"/><circle cx="1433.4" cy="270.5" r="3.6"/><circle cx="1435.3" cy="308.3" r="3.6"/><circle cx="1437.3" cy="268.5" r="3.6"/><circle cx="1440.2" cy="311.3" r="3.6"/><circle cx="1443.1" cy="268.5" r="3.6"/><circle cx="1446.0" cy="311.3" r="3.6"/><circle cx="1448.9" cy="276.3" r="3.6"/><circle cx="1451.8" cy="288.0" r="3.6"/><circle cx="1454.8" cy="280.2" r="3.6"/><circle cx="1456.7" cy="293.8" r="3.6"/><circle cx="1459.6" cy="249.1" r="3.6"/><circle cx="1461.6" cy="258.8" r="3.6"/><circle cx="1463.5" cy="297.7" r="3.6"/><circle cx="1463.5" cy="350.1" r="3.6"/><circle cx="1465.4" cy="355.9" r="3.6"/><circle cx="1469.3" cy="355.9" r="3.6"/><circle cx="1472.2" cy="258.8" r="3.6"/><circle cx="1473.9" cy="213.3" r="3.6"/><circle cx="1477.1" cy="213.3" r="3.6"/><circle cx="1480.3" cy="213.3" r="3.6"/><circle cx="1484.0" cy="216.0" r="3.6"/><circle cx="1485.9" cy="235.5" r="3.6"/><circle cx="1487.7" cy="250.2" r="3.6"/><circle cx="1490.5" cy="253.9" r="3.6"/><circle cx="1494.2" cy="258.6" r="3.6"/><circle cx="1496.0" cy="263.2" r="3.6"/><circle cx="1498.8" cy="266.9" r="3.6"/><circle cx="1502.5" cy="266.0" r="3.6"/><circle cx="1505.3" cy="266.4" r="3.6"/><circle cx="1508.1" cy="266.9" r="3.6"/><circle cx="1512.7" cy="266.9" r="3.6"/><circle cx="1514.5" cy="270.6" r="3.6"/><circle cx="1519.1" cy="268.7" r="3.6"/><circle cx="1521.9" cy="270.5" r="3.6"/><circle cx="1524.7" cy="272.4" r="3.6"/><circle cx="1527.5" cy="274.2" r="3.6"/><circle cx="1530.2" cy="276.1" r="3.6"/><circle cx="1533.0" cy="275.6" r="3.6"/><circle cx="1535.8" cy="275.2" r="3.6"/><circle cx="1539.5" cy="279.8" r="3.6"/><circle cx="1542.2" cy="278.9" r="3.6"/><circle cx="1545.0" cy="278.0" r="3.6"/><circle cx="1548.7" cy="277.0" r="3.6"/><circle cx="1550.0" cy="305.0" r="3.6"/><circle cx="1552.4" cy="279.8" r="3.6"/><circle cx="1555.2" cy="311.2" r="3.6"/><circle cx="1559.8" cy="290.9" r="3.6"/><circle cx="1563.5" cy="300.1" r="3.6"/><circle cx="1565.4" cy="263.2" r="3.6"/><circle cx="1569.1" cy="261.3" r="3.6"/><circle cx="1572.8" cy="261.3" r="3.6"/><circle cx="1575.5" cy="313.1" r="3.6"/><circle cx="1576.5" cy="364.8" r="3.6"/><circle cx="1579.2" cy="339.0" r="3.6"/><circle cx="1581.1" cy="320.5" r="3.6"/><circle cx="1583.8" cy="313.1" r="3.6"/><circle cx="1586.6" cy="289.1" r="3.6"/><circle cx="1590.3" cy="339.0" r="3.6"/><circle cx="1593.1" cy="268.7" r="3.6"/><circle cx="1596.8" cy="267.8" r="3.6"/><circle cx="1600.5" cy="266.9" r="3.6"/><circle cx="1604.2" cy="268.7" r="3.6"/><circle cx="1606.0" cy="298.3" r="3.6"/><circle cx="1609.7" cy="302.0" r="3.6"/><circle cx="1612.5" cy="301.1" r="3.6"/><circle cx="1615.3" cy="300.1" r="3.6"/><circle cx="1618.0" cy="246.5" r="3.6"/><circle cx="1620.8" cy="355.6" r="3.6"/><circle cx="1622.7" cy="241.0" r="3.6"/><circle cx="1626.4" cy="229.9" r="3.6"/><circle cx="1629.2" cy="232.7" r="3.6"/><circle cx="1631.9" cy="235.5" r="3.6"/><circle cx="1634.7" cy="229.9" r="3.6"/><circle cx="1638.4" cy="241.0" r="3.6"/><circle cx="1641.9" cy="356.0" r="3.6"/><circle cx="1643.9" cy="241.0" r="3.6"/><circle cx="1648.5" cy="239.1" r="3.6"/><circle cx="1651.8" cy="239.5" r="3.6"/><circle cx="1655.0" cy="239.9" r="3.6"/><circle cx="1658.3" cy="243.3" r="3.6"/><circle cx="1661.6" cy="253.3" r="3.6"/><circle cx="1665.8" cy="254.9" r="3.6"/><circle cx="1669.5" cy="258.2" r="3.6"/><circle cx="1673.3" cy="261.6" r="3.6"/><circle cx="1678.3" cy="259.9" r="3.6"/><circle cx="1683.3" cy="251.6" r="3.6"/><circle cx="1686.6" cy="246.6" r="3.6"/><circle cx="1689.9" cy="266.6" r="3.6"/><circle cx="1693.3" cy="279.9" r="3.6"/><circle cx="1695.7" cy="289.9" r="3.6"/><circle cx="1699.9" cy="319.8" r="3.6"/><circle cx="1703.2" cy="279.9" r="3.6"/><circle cx="1706.6" cy="287.4" r="3.6"/><circle cx="1709.9" cy="294.9" r="3.6"/><circle cx="1713.2" cy="259.9" r="3.6"/><circle cx="1717.4" cy="356.4" r="3.6"/><circle cx="1719.0" cy="238.3" r="3.6"/><circle cx="1722.0" cy="234.6" r="3.6"/><circle cx="1724.9" cy="230.8" r="3.6"/><circle cx="1728.2" cy="254.9" r="3.6"/><circle cx="1729.9" cy="276.6" r="3.6"/><circle cx="1734.0" cy="278.2" r="3.6"/><circle cx="1738.2" cy="253.3" r="3.6"/><circle cx="1741.5" cy="276.6" r="3.6"/><circle cx="1744.8" cy="273.2" r="3.6"/><circle cx="1748.2" cy="273.2" r="3.6"/><circle cx="1751.5" cy="281.5" r="3.6"/><circle cx="1754.8" cy="256.6" r="3.6"/><circle cx="1758.2" cy="269.9" r="3.6"/><circle cx="1761.5" cy="234.9" r="3.6"/><circle cx="1764.8" cy="232.1" r="3.6"/><circle cx="1768.2" cy="229.4" r="3.6"/><circle cx="1771.5" cy="226.6" r="3.6"/><circle cx="1775.6" cy="227.5" r="3.6"/><circle cx="1776.5" cy="256.6" r="3.6"/><circle cx="1779.8" cy="249.7" r="3.6"/><circle cx="1783.2" cy="242.9" r="3.6"/><circle cx="1786.5" cy="236.0" r="3.6"/><circle cx="1789.8" cy="229.1" r="3.6"/><circle cx="1791.4" cy="244.9" r="3.6"/><circle cx="1795.6" cy="281.5" r="3.6"/><circle cx="1798.1" cy="258.2" r="3.6"/><circle cx="1802.3" cy="274.9" r="3.6"/><circle cx="1804.8" cy="274.9" r="3.6"/><circle cx="1806.4" cy="241.6" r="3.6"/><circle cx="1811.4" cy="246.6" r="3.6"/><circle cx="1816.4" cy="246.6" r="3.6"/><circle cx="1819.7" cy="251.6" r="3.6"/><circle cx="1823.9" cy="257.4" r="3.6"/><circle cx="1826.8" cy="248.6" r="3.6"/><circle cx="1829.7" cy="239.9" r="3.6"/><circle cx="1833.0" cy="248.3" r="3.6"/><circle cx="1836.4" cy="246.6" r="3.6"/><circle cx="1839.7" cy="250.8" r="3.6"/><circle cx="1843.0" cy="254.9" r="3.6"/><circle cx="1846.3" cy="251.6" r="3.6"/><circle cx="1849.7" cy="248.3" r="3.6"/><circle cx="1854.7" cy="248.3" r="3.6"/><circle cx="1858.0" cy="252.4" r="3.6"/></g>
<polyline points="1089.0,423.0 1465.0,423.0 1474.8,264.2 1479.7,291.9 1482.5,293.7 1485.4,258.8 1490.3,238.3 1495.2,229.1 1499.1,250.2 1502.8,245.6 1514.5,166.5 1518.3,225.3 1525.1,141.7 1529.0,213.4 1534.8,207.9 1539.7,211.6 1545.5,315.8 1552.3,220.1 1555.2,209.7 1559.1,216.2 1561.9,187.7 1566.7,190.4 1568.7,241.0 1573.5,205.1 1576.5,214.4 1578.3,161.9 1582.2,160.0 1585.2,192.3 1590.0,192.3 1592.9,196.0 1595.8,174.8 1598.7,211.6 1602.5,121.4 1605.5,183.0 1608.4,147.2 1612.3,168.4 1615.2,133.3 1621.9,201.4 1625.8,140.7 1631.7,144.4 1633.5,159.1 1635.5,134.3 1639.4,126.0 1645.7,98.4 1649.3,320.4 1650.6,161.0 1655.4,161.0 1659.3,171.1 1663.2,153.7 1667.1,166.6 1668.9,262.4 1672.8,81.9 1675.8,345.3 1682.6,112.2 1686.4,126.0 1689.3,219.8 1692.2,99.3 1696.1,289.1 1699.0,102.1 1702.9,200.5 1709.6,151.8 1716.4,188.6 1719.3,91.0 1726.1,218.1 1729.0,164.7 1732.8,162.8 1735.8,133.3 1740.1,145.5 1744.7,71.0 1749.9,56.1 1753.8,169.1 1759.7,107.6 1765.7,133.3 1766.8,353.5 1768.1,135.5 1774.7,133.0 1780.0,84.0 1783.2,277.2 1789.1,134.3 1793.6,175.3 1799.6,105.8 1803.5,234.6 1808.8,54.5 1816.5,73.4 1817.8,153.0 1825.0,56.1 1828.3,143.0 1834.7,120.0 1838.1,170.3 1841.3,120.0 1844.6,141.7 1849.2,139.2" fill="none" stroke="#e8273a" stroke-width="5.5" stroke-linejoin="round" stroke-linecap="butt"/>
</g>
<line x1="1089.0" y1="423.0" x2="1848.7" y2="423.0" stroke="#262626" stroke-width="1.8"/>
<g stroke="#262626" stroke-width="2" fill="none"><rect x="168.4" y="589.1" width="718.8" height="404.0"/><path d="M168.4 993.1V984.1M168.4 589.1V598.1"/><path d="M306.6 993.1V984.1M306.6 589.1V598.1"/><path d="M444.9 993.1V984.1M444.9 589.1V598.1"/><path d="M583.1 993.1V984.1M583.1 589.1V598.1"/><path d="M721.4 993.1V984.1M721.4 589.1V598.1"/><path d="M859.6 993.1V984.1M859.6 589.1V598.1"/><path d="M168.4 993.1H177.4M887.2 993.1H878.2"/><path d="M168.4 892.1H177.4M887.2 892.1H878.2"/><path d="M168.4 791.1H177.4M887.2 791.1H878.2"/><path d="M168.4 690.1H177.4M887.2 690.1H878.2"/><path d="M168.4 589.1H177.4M887.2 589.1H878.2"/></g><g fill="#262626" font-size="27"><text x="168.4" y="1029.9" text-anchor="middle">2</text><text x="306.6" y="1029.9" text-anchor="middle">3</text><text x="444.9" y="1029.9" text-anchor="middle">4</text><text x="583.1" y="1029.9" text-anchor="middle">5</text><text x="721.4" y="1029.9" text-anchor="middle">6</text><text x="859.6" y="1029.9" text-anchor="middle">7</text><text x="158.6" y="1002.7" text-anchor="end">0</text><text x="158.6" y="901.7" text-anchor="end">100</text><text x="158.6" y="800.7" text-anchor="end">200</text><text x="158.6" y="699.7" text-anchor="end">300</text><text x="158.6" y="598.7" text-anchor="end">400</text></g>
<rect x="331.1" y="742.0" width="46.5" height="251.1" fill="#dac8dc"/>
<rect x="258.1" y="918.0" width="224.7" height="42.2" fill="#f7ee9a"/>
<rect x="377.6" y="589.1" width="411.3" height="202.5" fill="#dadbde"/>
<rect x="478.9" y="760.2" width="45.8" height="200.0" fill="#dac8dc"/>
<rect x="788.9" y="628.3" width="98.3" height="364.8" fill="#7a7479"/>
<rect x="331.1" y="918.0" width="46.5" height="42.2" fill="#d8be98"/>
<rect x="478.9" y="918.0" width="3.9" height="42.2" fill="#dcc29c"/>
<rect x="478.9" y="760.2" width="45.8" height="31.4" fill="#c4b4c4"/>
<g stroke="#303032" stroke-width="2" fill="none"><rect x="168.4" y="589.1" width="718.8" height="404.0"/><path d="M168.4 993.1V984.1M168.4 589.1V598.1"/><path d="M306.6 993.1V984.1M306.6 589.1V598.1"/><path d="M444.9 993.1V984.1M444.9 589.1V598.1"/><path d="M583.1 993.1V984.1M583.1 589.1V598.1"/><path d="M721.4 993.1V984.1M721.4 589.1V598.1"/><path d="M859.6 993.1V984.1M859.6 589.1V598.1"/><path d="M168.4 993.1H177.4M887.2 993.1H878.2"/><path d="M168.4 892.1H177.4M887.2 892.1H878.2"/><path d="M168.4 791.1H177.4M887.2 791.1H878.2"/><path d="M168.4 690.1H177.4M887.2 690.1H878.2"/><path d="M168.4 589.1H177.4M887.2 589.1H878.2"/></g>
<g clip-path="url(#k3)">
<polyline points="168.4,993.1 337.1,993.1 337.9,901.2 339.7,875.3 342.3,859.8 346.1,841.7 351.3,833.9 352.6,814.5 357.8,815.8 359.1,802.8 361.7,780.8 366.8,774.4 373.3,789.9 376.0,787.7 380.9,744.0 385.9,744.0 389.9,749.9 393.8,747.9 399.8,759.8 404.8,759.8 409.7,754.9 412.7,759.8 417.7,747.9 421.7,749.9 427.6,738.0 433.6,746.9 438.5,706.2 443.5,704.2 448.5,705.2 452.5,696.3 457.4,700.2 464.4,701.2 467.4,698.3 470.3,708.2 472.3,650.6 477.3,646.6 478.3,620.8 483.3,622.8 487.2,632.7 492.2,591.0 495.2,636.7 499.1,633.7 500.1,652.6 505.1,663.5 508.1,674.4 512.1,678.4 517.0,672.4 522.0,666.5 524.0,692.3 528.9,693.3 531.9,678.4 537.9,677.4 542.9,693.3 544.8,700.2 549.8,696.3 555.8,699.2 556.8,678.4 564.7,666.5 568.7,664.5 574.6,690.3 577.6,660.5 582.6,674.4 588.6,676.4 594.5,672.4 598.5,650.6 603.5,659.5 607.4,627.7 613.4,630.7 619.4,632.7 629.3,633.7 632.0,648.6 638.0,655.5 642.9,640.6 645.9,653.5 651.9,646.6 657.8,643.6 660.8,655.5 664.8,662.5 670.7,664.5 676.7,674.4 680.7,622.8 684.6,624.7 687.6,632.7 689.6,641.6 695.6,644.6 700.5,652.6 704.5,664.5 708.5,658.5 712.5,630.7 715.4,630.7 717.4,648.6 720.4,641.6 725.4,624.7 727.4,618.8 733.3,619.8 738.3,618.8 741.3,630.7 744.2,627.7 748.2,638.6 749.2,642.6 754.2,625.7 759.1,623.7 762.1,632.7 767.1,628.7 769.1,648.6 772.1,634.7 776.0,633.7 781.0,634.7 783.0,654.5 787.0,638.6 790.9,642.6 791.9,660.5 793.9,692.3 797.9,693.3 802.9,690.3 806.8,694.3 804.8,700.2 806.8,738.0 810.8,738.0 814.8,716.1 817.8,730.0 819.7,753.9 823.7,752.9 828.7,736.0 831.7,751.9 836.6,755.9 841.6,761.8 843.7,791.2 849.0,808.2 852.2,812.5 854.3,821.0 858.6,819.9 856.5,826.3 859.7,841.2 862.8,863.5 865.0,841.2 869.2,842.2 871.3,851.8 873.5,861.3 875.6,872.0 878.8,870.9 875.6,876.2 876.6,914.4 879.8,993.1 884.1,993.1" fill="none" stroke="#050505" stroke-width="5.2" stroke-linejoin="round" stroke-linecap="butt"/>
<g fill="#050505"><circle cx="168.4" cy="993.1" r="3.6"/><circle cx="170.5" cy="993.1" r="3.6"/><circle cx="172.6" cy="993.1" r="3.6"/><circle cx="174.7" cy="993.1" r="3.6"/><circle cx="176.8" cy="993.1" r="3.6"/><circle cx="178.9" cy="993.1" r="3.6"/><circle cx="181.1" cy="993.1" r="3.6"/><circle cx="183.2" cy="993.1" r="3.6"/><circle cx="185.3" cy="993.1" r="3.6"/><circle cx="187.4" cy="993.1" r="3.6"/><circle cx="189.5" cy="993.1" r="3.6"/><circle cx="191.6" cy="993.1" r="3.6"/><circle cx="193.7" cy="993.1" r="3.6"/><circle cx="195.8" cy="993.1" r="3.6"/><circle cx="197.9" cy="993.1" r="3.6"/><circle cx="200.0" cy="993.1" r="3.6"/><circle cx="202.1" cy="993.1" r="3.6"/><circle cx="204.2" cy="993.1" r="3.6"/><circle cx="206.4" cy="993.1" r="3.6"/><circle cx="208.5" cy="993.1" r="3.6"/><circle cx="210.6" cy="993.1" r="3.6"/><circle cx="212.7" cy="993.1" r="3.6"/><circle cx="214.8" cy="993.1" r="3.6"/><circle cx="216.9" cy="993.1" r="3.6"/><circle cx="219.0" cy="993.1" r="3.6"/><circle cx="221.1" cy="993.1" r="3.6"/><circle cx="223.2" cy="993.1" r="3.6"/><circle cx="225.3" cy="993.1" r="3.6"/><circle cx="227.4" cy="993.1" r="3.6"/><circle cx="229.6" cy="993.1" r="3.6"/><circle cx="231.7" cy="993.1" r="3.6"/><circle cx="233.8" cy="993.1" r="3.6"/><circle cx="235.9" cy="993.1" r="3.6"/><circle cx="238.0" cy="993.1" r="3.6"/><circle cx="240.1" cy="993.1" r="3.6"/><circle cx="242.2" cy="993.1" r="3.6"/><circle cx="244.3" cy="993.1" r="3.6"/><circle cx="246.4" cy="993.1" r="3.6"/><circle cx="248.5" cy="993.1" r="3.6"/><circle cx="250.6" cy="993.1" r="3.6"/><circle cx="252.8" cy="993.1" r="3.6"/><circle cx="254.9" cy="993.1" r="3.6"/><circle cx="257.0" cy="993.1" r="3.6"/><circle cx="259.1" cy="993.1" r="3.6"/><circle cx="261.2" cy="993.1" r="3.6"/><circle cx="263.3" cy="993.1" r="3.6"/><circle cx="265.4" cy="993.1" r="3.6"/><circle cx="267.5" cy="993.1" r="3.6"/><circle cx="269.6" cy="993.1" r="3.6"/><circle cx="271.7" cy="993.1" r="3.6"/><circle cx="273.8" cy="993.1" r="3.6"/><circle cx="275.9" cy="993.1" r="3.6"/><circle cx="278.1" cy="993.1" r="3.6"/><circle cx="280.2" cy="993.1" r="3.6"/><circle cx="282.3" cy="993.1" r="3.6"/><circle cx="284.4" cy="993.1" r="3.6"/><circle cx="286.5" cy="993.1" r="3.6"/><circle cx="288.6" cy="993.1" r="3.6"/><circle cx="290.7" cy="993.1" r="3.6"/><circle cx="292.8" cy="993.1" r="3.6"/><circle cx="294.9" cy="993.1" r="3.6"/><circle cx="297.0" cy="993.1" r="3.6"/><circle cx="299.1" cy="993.1" r="3.6"/><circle cx="301.3" cy="993.1" r="3.6"/><circle cx="303.4" cy="993.1" r="3.6"/><circle cx="305.5" cy="993.1" r="3.6"/><circle cx="307.6" cy="993.1" r="3.6"/><circle cx="309.7" cy="993.1" r="3.6"/><circle cx="311.8" cy="993.1" r="3.6"/><circle cx="313.9" cy="993.1" r="3.6"/><circle cx="316.0" cy="993.1" r="3.6"/><circle cx="318.1" cy="993.1" r="3.6"/><circle cx="320.2" cy="993.1" r="3.6"/><circle cx="322.3" cy="993.1" r="3.6"/><circle cx="324.4" cy="993.1" r="3.6"/><circle cx="326.6" cy="993.1" r="3.6"/><circle cx="328.7" cy="993.1" r="3.6"/><circle cx="330.8" cy="993.1" r="3.6"/><circle cx="332.9" cy="993.1" r="3.6"/><circle cx="335.0" cy="993.1" r="3.6"/><circle cx="337.1" cy="993.1" r="3.6"/><circle cx="337.9" cy="901.2" r="3.6"/><circle cx="339.7" cy="875.3" r="3.6"/><circle cx="342.3" cy="859.8" r="3.6"/><circle cx="344.2" cy="850.8" r="3.6"/><circle cx="346.1" cy="841.7" r="3.6"/><circle cx="348.7" cy="837.8" r="3.6"/><circle cx="351.3" cy="833.9" r="3.6"/><circle cx="352.6" cy="814.5" r="3.6"/><circle cx="355.2" cy="815.1" r="3.6"/><circle cx="357.8" cy="815.8" r="3.6"/><circle cx="359.1" cy="802.8" r="3.6"/><circle cx="361.7" cy="780.8" r="3.6"/><circle cx="364.2" cy="777.6" r="3.6"/><circle cx="366.8" cy="774.4" r="3.6"/><circle cx="369.0" cy="779.6" r="3.6"/><circle cx="371.1" cy="784.7" r="3.6"/><circle cx="373.3" cy="789.9" r="3.6"/><circle cx="376.0" cy="787.7" r="3.6"/><circle cx="378.4" cy="765.9" r="3.6"/><circle cx="380.9" cy="744.0" r="3.6"/><circle cx="383.4" cy="744.0" r="3.6"/><circle cx="385.9" cy="744.0" r="3.6"/><circle cx="387.9" cy="747.0" r="3.6"/><circle cx="389.9" cy="749.9" r="3.6"/><circle cx="391.9" cy="748.9" r="3.6"/><circle cx="393.8" cy="747.9" r="3.6"/><circle cx="395.8" cy="751.9" r="3.6"/><circle cx="397.8" cy="755.8" r="3.6"/><circle cx="399.8" cy="759.8" r="3.6"/><circle cx="402.3" cy="759.8" r="3.6"/><circle cx="404.8" cy="759.8" r="3.6"/><circle cx="407.2" cy="757.3" r="3.6"/><circle cx="409.7" cy="754.9" r="3.6"/><circle cx="412.7" cy="759.8" r="3.6"/><circle cx="415.2" cy="753.8" r="3.6"/><circle cx="417.7" cy="747.9" r="3.6"/><circle cx="419.7" cy="748.9" r="3.6"/><circle cx="421.7" cy="749.9" r="3.6"/><circle cx="423.7" cy="745.9" r="3.6"/><circle cx="425.6" cy="742.0" r="3.6"/><circle cx="427.6" cy="738.0" r="3.6"/><circle cx="429.6" cy="741.0" r="3.6"/><circle cx="431.6" cy="743.9" r="3.6"/><circle cx="433.6" cy="746.9" r="3.6"/><circle cx="436.1" cy="726.5" r="3.6"/><circle cx="438.5" cy="706.2" r="3.6"/><circle cx="441.0" cy="705.2" r="3.6"/><circle cx="443.5" cy="704.2" r="3.6"/><circle cx="446.0" cy="704.7" r="3.6"/><circle cx="448.5" cy="705.2" r="3.6"/><circle cx="450.5" cy="700.8" r="3.6"/><circle cx="452.5" cy="696.3" r="3.6"/><circle cx="454.9" cy="698.2" r="3.6"/><circle cx="457.4" cy="700.2" r="3.6"/><circle cx="459.7" cy="700.5" r="3.6"/><circle cx="462.1" cy="700.9" r="3.6"/><circle cx="464.4" cy="701.2" r="3.6"/><circle cx="467.4" cy="698.3" r="3.6"/><circle cx="470.3" cy="708.2" r="3.6"/><circle cx="472.3" cy="650.6" r="3.6"/><circle cx="474.8" cy="648.6" r="3.6"/><circle cx="477.3" cy="646.6" r="3.6"/><circle cx="478.3" cy="620.8" r="3.6"/><circle cx="480.8" cy="621.8" r="3.6"/><circle cx="483.3" cy="622.8" r="3.6"/><circle cx="485.2" cy="627.8" r="3.6"/><circle cx="487.2" cy="632.7" r="3.6"/><circle cx="489.7" cy="611.9" r="3.6"/><circle cx="492.2" cy="591.0" r="3.6"/><circle cx="495.2" cy="636.7" r="3.6"/><circle cx="497.1" cy="635.2" r="3.6"/><circle cx="499.1" cy="633.7" r="3.6"/><circle cx="500.1" cy="652.6" r="3.6"/><circle cx="502.6" cy="658.0" r="3.6"/><circle cx="505.1" cy="663.5" r="3.6"/><circle cx="508.1" cy="674.4" r="3.6"/><circle cx="510.1" cy="676.4" r="3.6"/><circle cx="512.1" cy="678.4" r="3.6"/><circle cx="514.5" cy="675.4" r="3.6"/><circle cx="517.0" cy="672.4" r="3.6"/><circle cx="519.5" cy="669.5" r="3.6"/><circle cx="522.0" cy="666.5" r="3.6"/><circle cx="524.0" cy="692.3" r="3.6"/><circle cx="526.5" cy="692.8" r="3.6"/><circle cx="528.9" cy="693.3" r="3.6"/><circle cx="531.9" cy="678.4" r="3.6"/><circle cx="533.9" cy="678.1" r="3.6"/><circle cx="535.9" cy="677.7" r="3.6"/><circle cx="537.9" cy="677.4" r="3.6"/><circle cx="540.4" cy="685.3" r="3.6"/><circle cx="542.9" cy="693.3" r="3.6"/><circle cx="544.8" cy="700.2" r="3.6"/><circle cx="547.3" cy="698.2" r="3.6"/><circle cx="549.8" cy="696.3" r="3.6"/><circle cx="551.8" cy="697.3" r="3.6"/><circle cx="553.8" cy="698.2" r="3.6"/><circle cx="555.8" cy="699.2" r="3.6"/><circle cx="556.8" cy="678.4" r="3.6"/><circle cx="558.8" cy="675.4" r="3.6"/><circle cx="560.8" cy="672.5" r="3.6"/><circle cx="562.7" cy="669.5" r="3.6"/><circle cx="564.7" cy="666.5" r="3.6"/><circle cx="566.7" cy="665.5" r="3.6"/><circle cx="568.7" cy="664.5" r="3.6"/><circle cx="570.7" cy="673.1" r="3.6"/><circle cx="572.6" cy="681.7" r="3.6"/><circle cx="574.6" cy="690.3" r="3.6"/><circle cx="577.6" cy="660.5" r="3.6"/><circle cx="580.1" cy="667.5" r="3.6"/><circle cx="582.6" cy="674.4" r="3.6"/><circle cx="584.6" cy="675.1" r="3.6"/><circle cx="586.6" cy="675.7" r="3.6"/><circle cx="588.6" cy="676.4" r="3.6"/><circle cx="590.6" cy="675.1" r="3.6"/><circle cx="592.5" cy="673.7" r="3.6"/><circle cx="594.5" cy="672.4" r="3.6"/><circle cx="596.5" cy="661.5" r="3.6"/><circle cx="598.5" cy="650.6" r="3.6"/><circle cx="601.0" cy="655.0" r="3.6"/><circle cx="603.5" cy="659.5" r="3.6"/><circle cx="605.5" cy="643.6" r="3.6"/><circle cx="607.4" cy="627.7" r="3.6"/><circle cx="609.4" cy="628.7" r="3.6"/><circle cx="611.4" cy="629.7" r="3.6"/><circle cx="613.4" cy="630.7" r="3.6"/><circle cx="615.4" cy="631.4" r="3.6"/><circle cx="617.4" cy="632.0" r="3.6"/><circle cx="619.4" cy="632.7" r="3.6"/><circle cx="621.4" cy="632.9" r="3.6"/><circle cx="623.4" cy="633.1" r="3.6"/><circle cx="625.3" cy="633.3" r="3.6"/><circle cx="627.3" cy="633.5" r="3.6"/><circle cx="629.3" cy="633.7" r="3.6"/><circle cx="632.0" cy="648.6" r="3.6"/><circle cx="634.0" cy="650.9" r="3.6"/><circle cx="636.0" cy="653.2" r="3.6"/><circle cx="638.0" cy="655.5" r="3.6"/><circle cx="640.5" cy="648.0" r="3.6"/><circle cx="642.9" cy="640.6" r="3.6"/><circle cx="645.9" cy="653.5" r="3.6"/><circle cx="647.9" cy="651.2" r="3.6"/><circle cx="649.9" cy="648.9" r="3.6"/><circle cx="651.9" cy="646.6" r="3.6"/><circle cx="653.9" cy="645.6" r="3.6"/><circle cx="655.8" cy="644.6" r="3.6"/><circle cx="657.8" cy="643.6" r="3.6"/><circle cx="660.8" cy="655.5" r="3.6"/><circle cx="662.8" cy="659.0" r="3.6"/><circle cx="664.8" cy="662.5" r="3.6"/><circle cx="666.8" cy="663.2" r="3.6"/><circle cx="668.7" cy="663.8" r="3.6"/><circle cx="670.7" cy="664.5" r="3.6"/><circle cx="672.7" cy="667.8" r="3.6"/><circle cx="674.7" cy="671.1" r="3.6"/><circle cx="676.7" cy="674.4" r="3.6"/><circle cx="678.7" cy="648.6" r="3.6"/><circle cx="680.7" cy="622.8" r="3.6"/><circle cx="682.7" cy="623.8" r="3.6"/><circle cx="684.6" cy="624.7" r="3.6"/><circle cx="687.6" cy="632.7" r="3.6"/><circle cx="689.6" cy="641.6" r="3.6"/><circle cx="691.6" cy="642.6" r="3.6"/><circle cx="693.6" cy="643.6" r="3.6"/><circle cx="695.6" cy="644.6" r="3.6"/><circle cx="698.0" cy="648.6" r="3.6"/><circle cx="700.5" cy="652.6" r="3.6"/><circle cx="702.5" cy="658.5" r="3.6"/><circle cx="704.5" cy="664.5" r="3.6"/><circle cx="706.5" cy="661.5" r="3.6"/><circle cx="708.5" cy="658.5" r="3.6"/><circle cx="710.5" cy="644.6" r="3.6"/><circle cx="712.5" cy="630.7" r="3.6"/><circle cx="715.4" cy="630.7" r="3.6"/><circle cx="717.4" cy="648.6" r="3.6"/><circle cx="720.4" cy="641.6" r="3.6"/><circle cx="722.9" cy="633.2" r="3.6"/><circle cx="725.4" cy="624.7" r="3.6"/><circle cx="727.4" cy="618.8" r="3.6"/><circle cx="729.4" cy="619.1" r="3.6"/><circle cx="731.3" cy="619.5" r="3.6"/><circle cx="733.3" cy="619.8" r="3.6"/><circle cx="735.8" cy="619.3" r="3.6"/><circle cx="738.3" cy="618.8" r="3.6"/><circle cx="741.3" cy="630.7" r="3.6"/><circle cx="744.2" cy="627.7" r="3.6"/><circle cx="746.2" cy="633.2" r="3.6"/><circle cx="748.2" cy="638.6" r="3.6"/><circle cx="749.2" cy="642.6" r="3.6"/><circle cx="751.7" cy="634.2" r="3.6"/><circle cx="754.2" cy="625.7" r="3.6"/><circle cx="756.7" cy="624.7" r="3.6"/><circle cx="759.1" cy="623.7" r="3.6"/><circle cx="762.1" cy="632.7" r="3.6"/><circle cx="764.6" cy="630.7" r="3.6"/><circle cx="767.1" cy="628.7" r="3.6"/><circle cx="769.1" cy="648.6" r="3.6"/><circle cx="772.1" cy="634.7" r="3.6"/><circle cx="774.0" cy="634.2" r="3.6"/><circle cx="776.0" cy="633.7" r="3.6"/><circle cx="778.5" cy="634.2" r="3.6"/><circle cx="781.0" cy="634.7" r="3.6"/><circle cx="783.0" cy="654.5" r="3.6"/><circle cx="785.0" cy="646.5" r="3.6"/><circle cx="787.0" cy="638.6" r="3.6"/><circle cx="789.0" cy="640.6" r="3.6"/><circle cx="790.9" cy="642.6" r="3.6"/><circle cx="791.9" cy="660.5" r="3.6"/><circle cx="793.9" cy="692.3" r="3.6"/><circle cx="795.9" cy="692.8" r="3.6"/><circle cx="797.9" cy="693.3" r="3.6"/><circle cx="800.4" cy="691.8" r="3.6"/><circle cx="802.9" cy="690.3" r="3.6"/><circle cx="804.8" cy="692.3" r="3.6"/><circle cx="806.8" cy="694.3" r="3.6"/><circle cx="804.8" cy="700.2" r="3.6"/><circle cx="806.8" cy="738.0" r="3.6"/><circle cx="808.8" cy="738.0" r="3.6"/><circle cx="810.8" cy="738.0" r="3.6"/><circle cx="812.8" cy="727.0" r="3.6"/><circle cx="814.8" cy="716.1" r="3.6"/><circle cx="817.8" cy="730.0" r="3.6"/><circle cx="819.7" cy="753.9" r="3.6"/><circle cx="821.7" cy="753.4" r="3.6"/><circle cx="823.7" cy="752.9" r="3.6"/><circle cx="826.2" cy="744.5" r="3.6"/><circle cx="828.7" cy="736.0" r="3.6"/><circle cx="831.7" cy="751.9" r="3.6"/><circle cx="834.2" cy="753.9" r="3.6"/><circle cx="836.6" cy="755.9" r="3.6"/><circle cx="839.1" cy="758.8" r="3.6"/><circle cx="841.6" cy="761.8" r="3.6"/><circle cx="843.7" cy="791.2" r="3.6"/><circle cx="845.5" cy="796.9" r="3.6"/><circle cx="847.2" cy="802.5" r="3.6"/><circle cx="849.0" cy="808.2" r="3.6"/><circle cx="850.6" cy="810.4" r="3.6"/><circle cx="852.2" cy="812.5" r="3.6"/><circle cx="854.3" cy="821.0" r="3.6"/><circle cx="856.5" cy="820.5" r="3.6"/><circle cx="858.6" cy="819.9" r="3.6"/><circle cx="856.5" cy="826.3" r="3.6"/><circle cx="858.1" cy="833.8" r="3.6"/><circle cx="859.7" cy="841.2" r="3.6"/><circle cx="862.8" cy="863.5" r="3.6"/><circle cx="865.0" cy="841.2" r="3.6"/><circle cx="867.1" cy="841.7" r="3.6"/><circle cx="869.2" cy="842.2" r="3.6"/><circle cx="871.3" cy="851.8" r="3.6"/><circle cx="873.5" cy="861.3" r="3.6"/><circle cx="875.6" cy="872.0" r="3.6"/><circle cx="877.2" cy="871.5" r="3.6"/><circle cx="878.8" cy="870.9" r="3.6"/><circle cx="877.2" cy="873.5" r="3.6"/><circle cx="875.6" cy="876.2" r="3.6"/><circle cx="876.6" cy="914.4" r="3.6"/><circle cx="878.2" cy="953.8" r="3.6"/><circle cx="879.8" cy="993.1" r="3.6"/><circle cx="882.0" cy="993.1" r="3.6"/><circle cx="884.1" cy="993.1" r="3.6"/></g>
<polyline points="168.4,993.1 258.1,993.1 260.7,958.2 260.7,956.9 265.9,953.0 271.1,950.4 273.7,953.0 276.2,943.9 280.1,946.5 282.7,943.9 286.6,949.1 291.8,943.9 297.0,936.2 302.1,940.0 306.0,941.3 309.9,936.2 317.7,934.9 322.8,938.7 330.6,938.7 338.4,933.6 343.5,932.3 351.3,940.0 359.1,934.9 366.8,931.0 372.0,925.8 375.9,936.2 385.0,932.3 395.3,929.7 410.9,929.7 421.2,931.0 431.6,927.1 436.7,932.3 447.1,929.7 457.4,924.5 462.6,928.4 479.4,929.7 483.3,914.1 487.2,846.8 489.8,859.8 492.4,850.7 497.6,806.7 498.9,817.1 502.8,789.9 507.5,795.3 511.5,779.6 517.5,767.2 522.5,764.8 524.5,771.8 528.3,735.8 533.5,763.3 538.5,758.9 549.8,784.7 554.8,778.7 562.7,748.9 570.7,745.9 573.7,738.0 578.6,733.0 582.6,718.1 584.6,726.1 594.5,714.1 597.5,722.1 602.5,716.1 606.4,704.2 608.4,715.1 618.4,707.2 622.3,699.2 629.3,677.4 636.2,702.2 638.0,704.2 643.9,702.2 646.9,696.3 651.9,650.6 654.8,678.4 662.8,696.3 665.8,670.4 667.8,686.3 671.7,682.4 677.7,684.3 681.7,690.3 689.6,688.3 690.6,682.4 697.6,702.2 711.5,650.6 717.4,657.5 722.4,654.5 725.4,676.4 731.3,692.3 737.3,665.5 747.2,700.2 750.2,686.3 755.2,680.4 761.1,634.7 767.1,662.5 772.1,654.5 781.0,672.4 790.9,643.6 794.9,652.6 797.9,660.5 804.8,653.5 807.8,659.5 810.8,688.3 813.8,688.3 820.7,710.2 826.7,736.0 829.0,770.0 831.0,780.6 836.3,795.5 839.5,817.8 843.7,821.0 849.0,827.3 853.3,842.2 856.5,865.6 860.7,878.3 863.9,893.2 867.1,899.6 873.5,914.4 876.6,993.1" fill="none" stroke="#e8273a" stroke-width="5.5" stroke-linejoin="round" stroke-linecap="butt"/>
</g>
<g clip-path="url(#k4)">
<polyline points="168.4,993.1 258.1,993.1 260.7,958.2 260.7,956.9 265.9,953.0 271.1,950.4 273.7,953.0 276.2,943.9 280.1,946.5 282.7,943.9 286.6,949.1 291.8,943.9 297.0,936.2 302.1,940.0 306.0,941.3 309.9,936.2 317.7,934.9 322.8,938.7 330.6,938.7 338.4,933.6 343.5,932.3 351.3,940.0 359.1,934.9 366.8,931.0 372.0,925.8 375.9,936.2 385.0,932.3 395.3,929.7 410.9,929.7 421.2,931.0 431.6,927.1 436.7,932.3 447.1,929.7 457.4,924.5 462.6,928.4 479.4,929.7 483.3,914.1 487.2,846.8 489.8,859.8 492.4,850.7 497.6,806.7 498.9,817.1 502.8,789.9 507.5,795.3 511.5,779.6 517.5,767.2 522.5,764.8 524.5,771.8 528.3,735.8 533.5,763.3 538.5,758.9 549.8,784.7 554.8,778.7 562.7,748.9 570.7,745.9 573.7,738.0 578.6,733.0 582.6,718.1 584.6,726.1 594.5,714.1 597.5,722.1 602.5,716.1 606.4,704.2 608.4,715.1 618.4,707.2 622.3,699.2 629.3,677.4 636.2,702.2 638.0,704.2 643.9,702.2 646.9,696.3 651.9,650.6 654.8,678.4 662.8,696.3 665.8,670.4 667.8,686.3 671.7,682.4 677.7,684.3 681.7,690.3 689.6,688.3 690.6,682.4 697.6,702.2 711.5,650.6 717.4,657.5 722.4,654.5 725.4,676.4 731.3,692.3 737.3,665.5 747.2,700.2 750.2,686.3 755.2,680.4 761.1,634.7 767.1,662.5 772.1,654.5 781.0,672.4 790.9,643.6 794.9,652.6 797.9,660.5 804.8,653.5 807.8,659.5 810.8,688.3 813.8,688.3 820.7,710.2 826.7,736.0 829.0,770.0 831.0,780.6 836.3,795.5 839.5,817.8 843.7,821.0 849.0,827.3 853.3,842.2 856.5,865.6 860.7,878.3 863.9,893.2 867.1,899.6 873.5,914.4 876.6,993.1" fill="none" stroke="#ec8f36" stroke-width="5.5" stroke-linejoin="round" stroke-linecap="butt"/>
</g>
<g clip-path="url(#k5)">
<polyline points="168.4,993.1 337.1,993.1 337.9,901.2 339.7,875.3 342.3,859.8 346.1,841.7 351.3,833.9 352.6,814.5 357.8,815.8 359.1,802.8 361.7,780.8 366.8,774.4 373.3,789.9 376.0,787.7 380.9,744.0 385.9,744.0 389.9,749.9 393.8,747.9 399.8,759.8 404.8,759.8 409.7,754.9 412.7,759.8 417.7,747.9 421.7,749.9 427.6,738.0 433.6,746.9 438.5,706.2 443.5,704.2 448.5,705.2 452.5,696.3 457.4,700.2 464.4,701.2 467.4,698.3 470.3,708.2 472.3,650.6 477.3,646.6 478.3,620.8 483.3,622.8 487.2,632.7 492.2,591.0 495.2,636.7 499.1,633.7 500.1,652.6 505.1,663.5 508.1,674.4 512.1,678.4 517.0,672.4 522.0,666.5 524.0,692.3 528.9,693.3 531.9,678.4 537.9,677.4 542.9,693.3 544.8,700.2 549.8,696.3 555.8,699.2 556.8,678.4 564.7,666.5 568.7,664.5 574.6,690.3 577.6,660.5 582.6,674.4 588.6,676.4 594.5,672.4 598.5,650.6 603.5,659.5 607.4,627.7 613.4,630.7 619.4,632.7 629.3,633.7 632.0,648.6 638.0,655.5 642.9,640.6 645.9,653.5 651.9,646.6 657.8,643.6 660.8,655.5 664.8,662.5 670.7,664.5 676.7,674.4 680.7,622.8 684.6,624.7 687.6,632.7 689.6,641.6 695.6,644.6 700.5,652.6 704.5,664.5 708.5,658.5 712.5,630.7 715.4,630.7 717.4,648.6 720.4,641.6 725.4,624.7 727.4,618.8 733.3,619.8 738.3,618.8 741.3,630.7 744.2,627.7 748.2,638.6 749.2,642.6 754.2,625.7 759.1,623.7 762.1,632.7 767.1,628.7 769.1,648.6 772.1,634.7 776.0,633.7 781.0,634.7 783.0,654.5 787.0,638.6 790.9,642.6 791.9,660.5 793.9,692.3 797.9,693.3 802.9,690.3 806.8,694.3 804.8,700.2 806.8,738.0 810.8,738.0 814.8,716.1 817.8,730.0 819.7,753.9 823.7,752.9 828.7,736.0 831.7,751.9 836.6,755.9 841.6,761.8 843.7,791.2 849.0,808.2 852.2,812.5 854.3,821.0 858.6,819.9 856.5,826.3 859.7,841.2 862.8,863.5 865.0,841.2 869.2,842.2 871.3,851.8 873.5,861.3 875.6,872.0 878.8,870.9 875.6,876.2 876.6,914.4 879.8,993.1 884.1,993.1" fill="none" stroke="#1f1420" stroke-width="5.2" stroke-linejoin="round" stroke-linecap="butt"/>
<g fill="#1f1420"><circle cx="328.7" cy="993.1" r="3.6"/><circle cx="330.8" cy="993.1" r="3.6"/><circle cx="332.9" cy="993.1" r="3.6"/><circle cx="335.0" cy="993.1" r="3.6"/><circle cx="337.1" cy="993.1" r="3.6"/><circle cx="337.9" cy="901.2" r="3.6"/><circle cx="339.7" cy="875.3" r="3.6"/><circle cx="342.3" cy="859.8" r="3.6"/><circle cx="344.2" cy="850.8" r="3.6"/><circle cx="346.1" cy="841.7" r="3.6"/><circle cx="348.7" cy="837.8" r="3.6"/><circle cx="351.3" cy="833.9" r="3.6"/><circle cx="352.6" cy="814.5" r="3.6"/><circle cx="355.2" cy="815.1" r="3.6"/><circle cx="357.8" cy="815.8" r="3.6"/><circle cx="359.1" cy="802.8" r="3.6"/><circle cx="361.7" cy="780.8" r="3.6"/><circle cx="364.2" cy="777.6" r="3.6"/><circle cx="366.8" cy="774.4" r="3.6"/><circle cx="369.0" cy="779.6" r="3.6"/><circle cx="371.1" cy="784.7" r="3.6"/><circle cx="373.3" cy="789.9" r="3.6"/><circle cx="376.0" cy="787.7" r="3.6"/><circle cx="378.4" cy="765.9" r="3.6"/><circle cx="380.9" cy="744.0" r="3.6"/></g>
</g>
<g clip-path="url(#k6)">
<polyline points="168.4,993.1 337.1,993.1 337.9,901.2 339.7,875.3 342.3,859.8 346.1,841.7 351.3,833.9 352.6,814.5 357.8,815.8 359.1,802.8 361.7,780.8 366.8,774.4 373.3,789.9 376.0,787.7 380.9,744.0 385.9,744.0 389.9,749.9 393.8,747.9 399.8,759.8 404.8,759.8 409.7,754.9 412.7,759.8 417.7,747.9 421.7,749.9 427.6,738.0 433.6,746.9 438.5,706.2 443.5,704.2 448.5,705.2 452.5,696.3 457.4,700.2 464.4,701.2 467.4,698.3 470.3,708.2 472.3,650.6 477.3,646.6 478.3,620.8 483.3,622.8 487.2,632.7 492.2,591.0 495.2,636.7 499.1,633.7 500.1,652.6 505.1,663.5 508.1,674.4 512.1,678.4 517.0,672.4 522.0,666.5 524.0,692.3 528.9,693.3 531.9,678.4 537.9,677.4 542.9,693.3 544.8,700.2 549.8,696.3 555.8,699.2 556.8,678.4 564.7,666.5 568.7,664.5 574.6,690.3 577.6,660.5 582.6,674.4 588.6,676.4 594.5,672.4 598.5,650.6 603.5,659.5 607.4,627.7 613.4,630.7 619.4,632.7 629.3,633.7 632.0,648.6 638.0,655.5 642.9,640.6 645.9,653.5 651.9,646.6 657.8,643.6 660.8,655.5 664.8,662.5 670.7,664.5 676.7,674.4 680.7,622.8 684.6,624.7 687.6,632.7 689.6,641.6 695.6,644.6 700.5,652.6 704.5,664.5 708.5,658.5 712.5,630.7 715.4,630.7 717.4,648.6 720.4,641.6 725.4,624.7 727.4,618.8 733.3,619.8 738.3,618.8 741.3,630.7 744.2,627.7 748.2,638.6 749.2,642.6 754.2,625.7 759.1,623.7 762.1,632.7 767.1,628.7 769.1,648.6 772.1,634.7 776.0,633.7 781.0,634.7 783.0,654.5 787.0,638.6 790.9,642.6 791.9,660.5 793.9,692.3 797.9,693.3 802.9,690.3 806.8,694.3 804.8,700.2 806.8,738.0 810.8,738.0 814.8,716.1 817.8,730.0 819.7,753.9 823.7,752.9 828.7,736.0 831.7,751.9 836.6,755.9 841.6,761.8 843.7,791.2 849.0,808.2 852.2,812.5 854.3,821.0 858.6,819.9 856.5,826.3 859.7,841.2 862.8,863.5 865.0,841.2 869.2,842.2 871.3,851.8 873.5,861.3 875.6,872.0 878.8,870.9 875.6,876.2 876.6,914.4 879.8,993.1 884.1,993.1" fill="none" stroke="#1c1c1e" stroke-width="5.2" stroke-linejoin="round" stroke-linecap="butt"/>
<g fill="#1c1c1e"><circle cx="376.0" cy="787.7" r="3.6"/><circle cx="378.4" cy="765.9" r="3.6"/><circle cx="380.9" cy="744.0" r="3.6"/><circle cx="383.4" cy="744.0" r="3.6"/><circle cx="385.9" cy="744.0" r="3.6"/><circle cx="387.9" cy="747.0" r="3.6"/><circle cx="389.9" cy="749.9" r="3.6"/><circle cx="391.9" cy="748.9" r="3.6"/><circle cx="393.8" cy="747.9" r="3.6"/><circle cx="395.8" cy="751.9" r="3.6"/><circle cx="397.8" cy="755.8" r="3.6"/><circle cx="399.8" cy="759.8" r="3.6"/><circle cx="402.3" cy="759.8" r="3.6"/><circle cx="404.8" cy="759.8" r="3.6"/><circle cx="407.2" cy="757.3" r="3.6"/><circle cx="409.7" cy="754.9" r="3.6"/><circle cx="412.7" cy="759.8" r="3.6"/><circle cx="415.2" cy="753.8" r="3.6"/><circle cx="417.7" cy="747.9" r="3.6"/><circle cx="419.7" cy="748.9" r="3.6"/><circle cx="421.7" cy="749.9" r="3.6"/><circle cx="423.7" cy="745.9" r="3.6"/><circle cx="425.6" cy="742.0" r="3.6"/><circle cx="427.6" cy="738.0" r="3.6"/><circle cx="429.6" cy="741.0" r="3.6"/><circle cx="431.6" cy="743.9" r="3.6"/><circle cx="433.6" cy="746.9" r="3.6"/><circle cx="436.1" cy="726.5" r="3.6"/><circle cx="438.5" cy="706.2" r="3.6"/><circle cx="441.0" cy="705.2" r="3.6"/><circle cx="443.5" cy="704.2" r="3.6"/><circle cx="446.0" cy="704.7" r="3.6"/><circle cx="448.5" cy="705.2" r="3.6"/><circle cx="450.5" cy="700.8" r="3.6"/><circle cx="452.5" cy="696.3" r="3.6"/><circle cx="454.9" cy="698.2" r="3.6"/><circle cx="457.4" cy="700.2" r="3.6"/><circle cx="459.7" cy="700.5" r="3.6"/><circle cx="462.1" cy="700.9" r="3.6"/><circle cx="464.4" cy="701.2" r="3.6"/><circle cx="467.4" cy="698.3" r="3.6"/><circle cx="470.3" cy="708.2" r="3.6"/><circle cx="472.3" cy="650.6" r="3.6"/><circle cx="474.8" cy="648.6" r="3.6"/><circle cx="477.3" cy="646.6" r="3.6"/><circle cx="478.3" cy="620.8" r="3.6"/><circle cx="480.8" cy="621.8" r="3.6"/><circle cx="483.3" cy="622.8" r="3.6"/><circle cx="485.2" cy="627.8" r="3.6"/><circle cx="487.2" cy="632.7" r="3.6"/><circle cx="489.7" cy="611.9" r="3.6"/><circle cx="492.2" cy="591.0" r="3.6"/><circle cx="495.2" cy="636.7" r="3.6"/><circle cx="497.1" cy="635.2" r="3.6"/><circle cx="499.1" cy="633.7" r="3.6"/><circle cx="500.1" cy="652.6" r="3.6"/><circle cx="502.6" cy="658.0" r="3.6"/><circle cx="505.1" cy="663.5" r="3.6"/><circle cx="508.1" cy="674.4" r="3.6"/><circle cx="510.1" cy="676.4" r="3.6"/><circle cx="512.1" cy="678.4" r="3.6"/><circle cx="514.5" cy="675.4" r="3.6"/><circle cx="517.0" cy="672.4" r="3.6"/><circle cx="519.5" cy="669.5" r="3.6"/><circle cx="522.0" cy="666.5" r="3.6"/><circle cx="524.0" cy="692.3" r="3.6"/><circle cx="526.5" cy="692.8" r="3.6"/><circle cx="528.9" cy="693.3" r="3.6"/><circle cx="531.9" cy="678.4" r="3.6"/><circle cx="533.9" cy="678.1" r="3.6"/><circle cx="535.9" cy="677.7" r="3.6"/><circle cx="537.9" cy="677.4" r="3.6"/><circle cx="540.4" cy="685.3" r="3.6"/><circle cx="542.9" cy="693.3" r="3.6"/><circle cx="544.8" cy="700.2" r="3.6"/><circle cx="547.3" cy="698.2" r="3.6"/><circle cx="549.8" cy="696.3" r="3.6"/><circle cx="551.8" cy="697.3" r="3.6"/><circle cx="553.8" cy="698.2" r="3.6"/><circle cx="555.8" cy="699.2" r="3.6"/><circle cx="556.8" cy="678.4" r="3.6"/><circle cx="558.8" cy="675.4" r="3.6"/><circle cx="560.8" cy="672.5" r="3.6"/><circle cx="562.7" cy="669.5" r="3.6"/><circle cx="564.7" cy="666.5" r="3.6"/><circle cx="566.7" cy="665.5" r="3.6"/><circle cx="568.7" cy="664.5" r="3.6"/><circle cx="570.7" cy="673.1" r="3.6"/><circle cx="572.6" cy="681.7" r="3.6"/><circle cx="574.6" cy="690.3" r="3.6"/><circle cx="577.6" cy="660.5" r="3.6"/><circle cx="580.1" cy="667.5" r="3.6"/><circle cx="582.6" cy="674.4" r="3.6"/><circle cx="584.6" cy="675.1" r="3.6"/><circle cx="586.6" cy="675.7" r="3.6"/><circle cx="588.6" cy="676.4" r="3.6"/><circle cx="590.6" cy="675.1" r="3.6"/><circle cx="592.5" cy="673.7" r="3.6"/><circle cx="594.5" cy="672.4" r="3.6"/><circle cx="596.5" cy="661.5" r="3.6"/><circle cx="598.5" cy="650.6" r="3.6"/><circle cx="601.0" cy="655.0" r="3.6"/><circle cx="603.5" cy="659.5" r="3.6"/><circle cx="605.5" cy="643.6" r="3.6"/><circle cx="607.4" cy="627.7" r="3.6"/><circle cx="609.4" cy="628.7" r="3.6"/><circle cx="611.4" cy="629.7" r="3.6"/><circle cx="613.4" cy="630.7" r="3.6"/><circle cx="615.4" cy="631.4" r="3.6"/><circle cx="617.4" cy="632.0" r="3.6"/><circle cx="619.4" cy="632.7" r="3.6"/><circle cx="621.4" cy="632.9" r="3.6"/><circle cx="623.4" cy="633.1" r="3.6"/><circle cx="625.3" cy="633.3" r="3.6"/><circle cx="627.3" cy="633.5" r="3.6"/><circle cx="629.3" cy="633.7" r="3.6"/><circle cx="632.0" cy="648.6" r="3.6"/><circle cx="634.0" cy="650.9" r="3.6"/><circle cx="636.0" cy="653.2" r="3.6"/><circle cx="638.0" cy="655.5" r="3.6"/><circle cx="640.5" cy="648.0" r="3.6"/><circle cx="642.9" cy="640.6" r="3.6"/><circle cx="645.9" cy="653.5" r="3.6"/><circle cx="647.9" cy="651.2" r="3.6"/><circle cx="649.9" cy="648.9" r="3.6"/><circle cx="651.9" cy="646.6" r="3.6"/><circle cx="653.9" cy="645.6" r="3.6"/><circle cx="655.8" cy="644.6" r="3.6"/><circle cx="657.8" cy="643.6" r="3.6"/><circle cx="660.8" cy="655.5" r="3.6"/><circle cx="662.8" cy="659.0" r="3.6"/><circle cx="664.8" cy="662.5" r="3.6"/><circle cx="666.8" cy="663.2" r="3.6"/><circle cx="668.7" cy="663.8" r="3.6"/><circle cx="670.7" cy="664.5" r="3.6"/><circle cx="672.7" cy="667.8" r="3.6"/><circle cx="674.7" cy="671.1" r="3.6"/><circle cx="676.7" cy="674.4" r="3.6"/><circle cx="678.7" cy="648.6" r="3.6"/><circle cx="680.7" cy="622.8" r="3.6"/><circle cx="682.7" cy="623.8" r="3.6"/><circle cx="684.6" cy="624.7" r="3.6"/><circle cx="687.6" cy="632.7" r="3.6"/><circle cx="689.6" cy="641.6" r="3.6"/><circle cx="691.6" cy="642.6" r="3.6"/><circle cx="693.6" cy="643.6" r="3.6"/><circle cx="695.6" cy="644.6" r="3.6"/><circle cx="698.0" cy="648.6" r="3.6"/><circle cx="700.5" cy="652.6" r="3.6"/><circle cx="702.5" cy="658.5" r="3.6"/><circle cx="704.5" cy="664.5" r="3.6"/><circle cx="706.5" cy="661.5" r="3.6"/><circle cx="708.5" cy="658.5" r="3.6"/><circle cx="710.5" cy="644.6" r="3.6"/><circle cx="712.5" cy="630.7" r="3.6"/><circle cx="715.4" cy="630.7" r="3.6"/><circle cx="717.4" cy="648.6" r="3.6"/><circle cx="720.4" cy="641.6" r="3.6"/><circle cx="722.9" cy="633.2" r="3.6"/><circle cx="725.4" cy="624.7" r="3.6"/><circle cx="727.4" cy="618.8" r="3.6"/><circle cx="729.4" cy="619.1" r="3.6"/><circle cx="731.3" cy="619.5" r="3.6"/><circle cx="733.3" cy="619.8" r="3.6"/><circle cx="735.8" cy="619.3" r="3.6"/><circle cx="738.3" cy="618.8" r="3.6"/><circle cx="741.3" cy="630.7" r="3.6"/><circle cx="744.2" cy="627.7" r="3.6"/><circle cx="746.2" cy="633.2" r="3.6"/><circle cx="748.2" cy="638.6" r="3.6"/><circle cx="749.2" cy="642.6" r="3.6"/><circle cx="751.7" cy="634.2" r="3.6"/><circle cx="754.2" cy="625.7" r="3.6"/><circle cx="756.7" cy="624.7" r="3.6"/><circle cx="759.1" cy="623.7" r="3.6"/><circle cx="762.1" cy="632.7" r="3.6"/><circle cx="764.6" cy="630.7" r="3.6"/><circle cx="767.1" cy="628.7" r="3.6"/><circle cx="769.1" cy="648.6" r="3.6"/><circle cx="772.1" cy="634.7" r="3.6"/><circle cx="774.0" cy="634.2" r="3.6"/><circle cx="776.0" cy="633.7" r="3.6"/><circle cx="778.5" cy="634.2" r="3.6"/><circle cx="781.0" cy="634.7" r="3.6"/><circle cx="783.0" cy="654.5" r="3.6"/><circle cx="785.0" cy="646.5" r="3.6"/><circle cx="787.0" cy="638.6" r="3.6"/><circle cx="789.0" cy="640.6" r="3.6"/><circle cx="790.9" cy="642.6" r="3.6"/><circle cx="791.9" cy="660.5" r="3.6"/></g>
<polyline points="168.4,993.1 258.1,993.1 260.7,958.2 260.7,956.9 265.9,953.0 271.1,950.4 273.7,953.0 276.2,943.9 280.1,946.5 282.7,943.9 286.6,949.1 291.8,943.9 297.0,936.2 302.1,940.0 306.0,941.3 309.9,936.2 317.7,934.9 322.8,938.7 330.6,938.7 338.4,933.6 343.5,932.3 351.3,940.0 359.1,934.9 366.8,931.0 372.0,925.8 375.9,936.2 385.0,932.3 395.3,929.7 410.9,929.7 421.2,931.0 431.6,927.1 436.7,932.3 447.1,929.7 457.4,924.5 462.6,928.4 479.4,929.7 483.3,914.1 487.2,846.8 489.8,859.8 492.4,850.7 497.6,806.7 498.9,817.1 502.8,789.9 507.5,795.3 511.5,779.6 517.5,767.2 522.5,764.8 524.5,771.8 528.3,735.8 533.5,763.3 538.5,758.9 549.8,784.7 554.8,778.7 562.7,748.9 570.7,745.9 573.7,738.0 578.6,733.0 582.6,718.1 584.6,726.1 594.5,714.1 597.5,722.1 602.5,716.1 606.4,704.2 608.4,715.1 618.4,707.2 622.3,699.2 629.3,677.4 636.2,702.2 638.0,704.2 643.9,702.2 646.9,696.3 651.9,650.6 654.8,678.4 662.8,696.3 665.8,670.4 667.8,686.3 671.7,682.4 677.7,684.3 681.7,690.3 689.6,688.3 690.6,682.4 697.6,702.2 711.5,650.6 717.4,657.5 722.4,654.5 725.4,676.4 731.3,692.3 737.3,665.5 747.2,700.2 750.2,686.3 755.2,680.4 761.1,634.7 767.1,662.5 772.1,654.5 781.0,672.4 790.9,643.6 794.9,652.6 797.9,660.5 804.8,653.5 807.8,659.5 810.8,688.3 813.8,688.3 820.7,710.2 826.7,736.0 829.0,770.0 831.0,780.6 836.3,795.5 839.5,817.8 843.7,821.0 849.0,827.3 853.3,842.2 856.5,865.6 860.7,878.3 863.9,893.2 867.1,899.6 873.5,914.4 876.6,993.1" fill="none" stroke="#d94f44" stroke-width="5.5" stroke-linejoin="round" stroke-linecap="butt"/>
</g>
<g clip-path="url(#k7)">
<polyline points="168.4,993.1 258.1,993.1 260.7,958.2 260.7,956.9 265.9,953.0 271.1,950.4 273.7,953.0 276.2,943.9 280.1,946.5 282.7,943.9 286.6,949.1 291.8,943.9 297.0,936.2 302.1,940.0 306.0,941.3 309.9,936.2 317.7,934.9 322.8,938.7 330.6,938.7 338.4,933.6 343.5,932.3 351.3,940.0 359.1,934.9 366.8,931.0 372.0,925.8 375.9,936.2 385.0,932.3 395.3,929.7 410.9,929.7 421.2,931.0 431.6,927.1 436.7,932.3 447.1,929.7 457.4,924.5 462.6,928.4 479.4,929.7 483.3,914.1 487.2,846.8 489.8,859.8 492.4,850.7 497.6,806.7 498.9,817.1 502.8,789.9 507.5,795.3 511.5,779.6 517.5,767.2 522.5,764.8 524.5,771.8 528.3,735.8 533.5,763.3 538.5,758.9 549.8,784.7 554.8,778.7 562.7,748.9 570.7,745.9 573.7,738.0 578.6,733.0 582.6,718.1 584.6,726.1 594.5,714.1 597.5,722.1 602.5,716.1 606.4,704.2 608.4,715.1 618.4,707.2 622.3,699.2 629.3,677.4 636.2,702.2 638.0,704.2 643.9,702.2 646.9,696.3 651.9,650.6 654.8,678.4 662.8,696.3 665.8,670.4 667.8,686.3 671.7,682.4 677.7,684.3 681.7,690.3 689.6,688.3 690.6,682.4 697.6,702.2 711.5,650.6 717.4,657.5 722.4,654.5 725.4,676.4 731.3,692.3 737.3,665.5 747.2,700.2 750.2,686.3 755.2,680.4 761.1,634.7 767.1,662.5 772.1,654.5 781.0,672.4 790.9,643.6 794.9,652.6 797.9,660.5 804.8,653.5 807.8,659.5 810.8,688.3 813.8,688.3 820.7,710.2 826.7,736.0 829.0,770.0 831.0,780.6 836.3,795.5 839.5,817.8 843.7,821.0 849.0,827.3 853.3,842.2 856.5,865.6 860.7,878.3 863.9,893.2 867.1,899.6 873.5,914.4 876.6,993.1" fill="none" stroke="#d5264a" stroke-width="5.5" stroke-linejoin="round" stroke-linecap="butt"/>
</g>
<g clip-path="url(#k8)">
<polyline points="168.4,993.1 337.1,993.1 337.9,901.2 339.7,875.3 342.3,859.8 346.1,841.7 351.3,833.9 352.6,814.5 357.8,815.8 359.1,802.8 361.7,780.8 366.8,774.4 373.3,789.9 376.0,787.7 380.9,744.0 385.9,744.0 389.9,749.9 393.8,747.9 399.8,759.8 404.8,759.8 409.7,754.9 412.7,759.8 417.7,747.9 421.7,749.9 427.6,738.0 433.6,746.9 438.5,706.2 443.5,704.2 448.5,705.2 452.5,696.3 457.4,700.2 464.4,701.2 467.4,698.3 470.3,708.2 472.3,650.6 477.3,646.6 478.3,620.8 483.3,622.8 487.2,632.7 492.2,591.0 495.2,636.7 499.1,633.7 500.1,652.6 505.1,663.5 508.1,674.4 512.1,678.4 517.0,672.4 522.0,666.5 524.0,692.3 528.9,693.3 531.9,678.4 537.9,677.4 542.9,693.3 544.8,700.2 549.8,696.3 555.8,699.2 556.8,678.4 564.7,666.5 568.7,664.5 574.6,690.3 577.6,660.5 582.6,674.4 588.6,676.4 594.5,672.4 598.5,650.6 603.5,659.5 607.4,627.7 613.4,630.7 619.4,632.7 629.3,633.7 632.0,648.6 638.0,655.5 642.9,640.6 645.9,653.5 651.9,646.6 657.8,643.6 660.8,655.5 664.8,662.5 670.7,664.5 676.7,674.4 680.7,622.8 684.6,624.7 687.6,632.7 689.6,641.6 695.6,644.6 700.5,652.6 704.5,664.5 708.5,658.5 712.5,630.7 715.4,630.7 717.4,648.6 720.4,641.6 725.4,624.7 727.4,618.8 733.3,619.8 738.3,618.8 741.3,630.7 744.2,627.7 748.2,638.6 749.2,642.6 754.2,625.7 759.1,623.7 762.1,632.7 767.1,628.7 769.1,648.6 772.1,634.7 776.0,633.7 781.0,634.7 783.0,654.5 787.0,638.6 790.9,642.6 791.9,660.5 793.9,692.3 797.9,693.3 802.9,690.3 806.8,694.3 804.8,700.2 806.8,738.0 810.8,738.0 814.8,716.1 817.8,730.0 819.7,753.9 823.7,752.9 828.7,736.0 831.7,751.9 836.6,755.9 841.6,761.8 843.7,791.2 849.0,808.2 852.2,812.5 854.3,821.0 858.6,819.9 856.5,826.3 859.7,841.2 862.8,863.5 865.0,841.2 869.2,842.2 871.3,851.8 873.5,861.3 875.6,872.0 878.8,870.9 875.6,876.2 876.6,914.4 879.8,993.1 884.1,993.1" fill="none" stroke="#131115" stroke-width="5.2" stroke-linejoin="round" stroke-linecap="butt"/>
<g fill="#131115"><circle cx="785.0" cy="646.5" r="3.6"/><circle cx="787.0" cy="638.6" r="3.6"/><circle cx="789.0" cy="640.6" r="3.6"/><circle cx="790.9" cy="642.6" r="3.6"/><circle cx="791.9" cy="660.5" r="3.6"/><circle cx="793.9" cy="692.3" r="3.6"/><circle cx="795.9" cy="692.8" r="3.6"/><circle cx="797.9" cy="693.3" r="3.6"/><circle cx="800.4" cy="691.8" r="3.6"/><circle cx="802.9" cy="690.3" r="3.6"/><circle cx="804.8" cy="692.3" r="3.6"/><circle cx="806.8" cy="694.3" r="3.6"/><circle cx="804.8" cy="700.2" r="3.6"/><circle cx="806.8" cy="738.0" r="3.6"/><circle cx="808.8" cy="738.0" r="3.6"/><circle cx="810.8" cy="738.0" r="3.6"/><circle cx="812.8" cy="727.0" r="3.6"/><circle cx="814.8" cy="716.1" r="3.6"/><circle cx="817.8" cy="730.0" r="3.6"/><circle cx="819.7" cy="753.9" r="3.6"/><circle cx="821.7" cy="753.4" r="3.6"/><circle cx="823.7" cy="752.9" r="3.6"/><circle cx="826.2" cy="744.5" r="3.6"/><circle cx="828.7" cy="736.0" r="3.6"/><circle cx="831.7" cy="751.9" r="3.6"/><circle cx="834.2" cy="753.9" r="3.6"/><circle cx="836.6" cy="755.9" r="3.6"/><circle cx="839.1" cy="758.8" r="3.6"/><circle cx="841.6" cy="761.8" r="3.6"/><circle cx="843.7" cy="791.2" r="3.6"/><circle cx="845.5" cy="796.9" r="3.6"/><circle cx="847.2" cy="802.5" r="3.6"/><circle cx="849.0" cy="808.2" r="3.6"/><circle cx="850.6" cy="810.4" r="3.6"/><circle cx="852.2" cy="812.5" r="3.6"/><circle cx="854.3" cy="821.0" r="3.6"/><circle cx="856.5" cy="820.5" r="3.6"/><circle cx="858.6" cy="819.9" r="3.6"/><circle cx="856.5" cy="826.3" r="3.6"/><circle cx="858.1" cy="833.8" r="3.6"/><circle cx="859.7" cy="841.2" r="3.6"/><circle cx="862.8" cy="863.5" r="3.6"/><circle cx="865.0" cy="841.2" r="3.6"/><circle cx="867.1" cy="841.7" r="3.6"/><circle cx="869.2" cy="842.2" r="3.6"/><circle cx="871.3" cy="851.8" r="3.6"/><circle cx="873.5" cy="861.3" r="3.6"/><circle cx="875.6" cy="872.0" r="3.6"/><circle cx="877.2" cy="871.5" r="3.6"/><circle cx="878.8" cy="870.9" r="3.6"/><circle cx="877.2" cy="873.5" r="3.6"/><circle cx="875.6" cy="876.2" r="3.6"/><circle cx="876.6" cy="914.4" r="3.6"/><circle cx="878.2" cy="953.8" r="3.6"/><circle cx="879.8" cy="993.1" r="3.6"/><circle cx="882.0" cy="993.1" r="3.6"/><circle cx="884.1" cy="993.1" r="3.6"/></g>
<polyline points="168.4,993.1 258.1,993.1 260.7,958.2 260.7,956.9 265.9,953.0 271.1,950.4 273.7,953.0 276.2,943.9 280.1,946.5 282.7,943.9 286.6,949.1 291.8,943.9 297.0,936.2 302.1,940.0 306.0,941.3 309.9,936.2 317.7,934.9 322.8,938.7 330.6,938.7 338.4,933.6 343.5,932.3 351.3,940.0 359.1,934.9 366.8,931.0 372.0,925.8 375.9,936.2 385.0,932.3 395.3,929.7 410.9,929.7 421.2,931.0 431.6,927.1 436.7,932.3 447.1,929.7 457.4,924.5 462.6,928.4 479.4,929.7 483.3,914.1 487.2,846.8 489.8,859.8 492.4,850.7 497.6,806.7 498.9,817.1 502.8,789.9 507.5,795.3 511.5,779.6 517.5,767.2 522.5,764.8 524.5,771.8 528.3,735.8 533.5,763.3 538.5,758.9 549.8,784.7 554.8,778.7 562.7,748.9 570.7,745.9 573.7,738.0 578.6,733.0 582.6,718.1 584.6,726.1 594.5,714.1 597.5,722.1 602.5,716.1 606.4,704.2 608.4,715.1 618.4,707.2 622.3,699.2 629.3,677.4 636.2,702.2 638.0,704.2 643.9,702.2 646.9,696.3 651.9,650.6 654.8,678.4 662.8,696.3 665.8,670.4 667.8,686.3 671.7,682.4 677.7,684.3 681.7,690.3 689.6,688.3 690.6,682.4 697.6,702.2 711.5,650.6 717.4,657.5 722.4,654.5 725.4,676.4 731.3,692.3 737.3,665.5 747.2,700.2 750.2,686.3 755.2,680.4 761.1,634.7 767.1,662.5 772.1,654.5 781.0,672.4 790.9,643.6 794.9,652.6 797.9,660.5 804.8,653.5 807.8,659.5 810.8,688.3 813.8,688.3 820.7,710.2 826.7,736.0 829.0,770.0 831.0,780.6 836.3,795.5 839.5,817.8 843.7,821.0 849.0,827.3 853.3,842.2 856.5,865.6 860.7,878.3 863.9,893.2 867.1,899.6 873.5,914.4 876.6,993.1" fill="none" stroke="#7c3a3a" stroke-width="5.5" stroke-linejoin="round" stroke-linecap="butt"/>
</g>
<g clip-path="url(#k9)">
<polyline points="168.4,993.1 337.1,993.1 337.9,901.2 339.7,875.3 342.3,859.8 346.1,841.7 351.3,833.9 352.6,814.5 357.8,815.8 359.1,802.8 361.7,780.8 366.8,774.4 373.3,789.9 376.0,787.7 380.9,744.0 385.9,744.0 389.9,749.9 393.8,747.9 399.8,759.8 404.8,759.8 409.7,754.9 412.7,759.8 417.7,747.9 421.7,749.9 427.6,738.0 433.6,746.9 438.5,706.2 443.5,704.2 448.5,705.2 452.5,696.3 457.4,700.2 464.4,701.2 467.4,698.3 470.3,708.2 472.3,650.6 477.3,646.6 478.3,620.8 483.3,622.8 487.2,632.7 492.2,591.0 495.2,636.7 499.1,633.7 500.1,652.6 505.1,663.5 508.1,674.4 512.1,678.4 517.0,672.4 522.0,666.5 524.0,692.3 528.9,693.3 531.9,678.4 537.9,677.4 542.9,693.3 544.8,700.2 549.8,696.3 555.8,699.2 556.8,678.4 564.7,666.5 568.7,664.5 574.6,690.3 577.6,660.5 582.6,674.4 588.6,676.4 594.5,672.4 598.5,650.6 603.5,659.5 607.4,627.7 613.4,630.7 619.4,632.7 629.3,633.7 632.0,648.6 638.0,655.5 642.9,640.6 645.9,653.5 651.9,646.6 657.8,643.6 660.8,655.5 664.8,662.5 670.7,664.5 676.7,674.4 680.7,622.8 684.6,624.7 687.6,632.7 689.6,641.6 695.6,644.6 700.5,652.6 704.5,664.5 708.5,658.5 712.5,630.7 715.4,630.7 717.4,648.6 720.4,641.6 725.4,624.7 727.4,618.8 733.3,619.8 738.3,618.8 741.3,630.7 744.2,627.7 748.2,638.6 749.2,642.6 754.2,625.7 759.1,623.7 762.1,632.7 767.1,628.7 769.1,648.6 772.1,634.7 776.0,633.7 781.0,634.7 783.0,654.5 787.0,638.6 790.9,642.6 791.9,660.5 793.9,692.3 797.9,693.3 802.9,690.3 806.8,694.3 804.8,700.2 806.8,738.0 810.8,738.0 814.8,716.1 817.8,730.0 819.7,753.9 823.7,752.9 828.7,736.0 831.7,751.9 836.6,755.9 841.6,761.8 843.7,791.2 849.0,808.2 852.2,812.5 854.3,821.0 858.6,819.9 856.5,826.3 859.7,841.2 862.8,863.5 865.0,841.2 869.2,842.2 871.3,851.8 873.5,861.3 875.6,872.0 878.8,870.9 875.6,876.2 876.6,914.4 879.8,993.1 884.1,993.1" fill="none" stroke="#6b5a48" stroke-width="5.2" stroke-linejoin="round" stroke-linecap="butt"/>
<polyline points="168.4,993.1 258.1,993.1 260.7,958.2 260.7,956.9 265.9,953.0 271.1,950.4 273.7,953.0 276.2,943.9 280.1,946.5 282.7,943.9 286.6,949.1 291.8,943.9 297.0,936.2 302.1,940.0 306.0,941.3 309.9,936.2 317.7,934.9 322.8,938.7 330.6,938.7 338.4,933.6 343.5,932.3 351.3,940.0 359.1,934.9 366.8,931.0 372.0,925.8 375.9,936.2 385.0,932.3 395.3,929.7 410.9,929.7 421.2,931.0 431.6,927.1 436.7,932.3 447.1,929.7 457.4,924.5 462.6,928.4 479.4,929.7 483.3,914.1 487.2,846.8 489.8,859.8 492.4,850.7 497.6,806.7 498.9,817.1 502.8,789.9 507.5,795.3 511.5,779.6 517.5,767.2 522.5,764.8 524.5,771.8 528.3,735.8 533.5,763.3 538.5,758.9 549.8,784.7 554.8,778.7 562.7,748.9 570.7,745.9 573.7,738.0 578.6,733.0 582.6,718.1 584.6,726.1 594.5,714.1 597.5,722.1 602.5,716.1 606.4,704.2 608.4,715.1 618.4,707.2 622.3,699.2 629.3,677.4 636.2,702.2 638.0,704.2 643.9,702.2 646.9,696.3 651.9,650.6 654.8,678.4 662.8,696.3 665.8,670.4 667.8,686.3 671.7,682.4 677.7,684.3 681.7,690.3 689.6,688.3 690.6,682.4 697.6,702.2 711.5,650.6 717.4,657.5 722.4,654.5 725.4,676.4 731.3,692.3 737.3,665.5 747.2,700.2 750.2,686.3 755.2,680.4 761.1,634.7 767.1,662.5 772.1,654.5 781.0,672.4 790.9,643.6 794.9,652.6 797.9,660.5 804.8,653.5 807.8,659.5 810.8,688.3 813.8,688.3 820.7,710.2 826.7,736.0 829.0,770.0 831.0,780.6 836.3,795.5 839.5,817.8 843.7,821.0 849.0,827.3 853.3,842.2 856.5,865.6 860.7,878.3 863.9,893.2 867.1,899.6 873.5,914.4 876.6,993.1" fill="none" stroke="#d67a50" stroke-width="5.5" stroke-linejoin="round" stroke-linecap="butt"/>
</g>
<g clip-path="url(#k10)">
<polyline points="168.4,993.1 258.1,993.1 260.7,958.2 260.7,956.9 265.9,953.0 271.1,950.4 273.7,953.0 276.2,943.9 280.1,946.5 282.7,943.9 286.6,949.1 291.8,943.9 297.0,936.2 302.1,940.0 306.0,941.3 309.9,936.2 317.7,934.9 322.8,938.7 330.6,938.7 338.4,933.6 343.5,932.3 351.3,940.0 359.1,934.9 366.8,931.0 372.0,925.8 375.9,936.2 385.0,932.3 395.3,929.7 410.9,929.7 421.2,931.0 431.6,927.1 436.7,932.3 447.1,929.7 457.4,924.5 462.6,928.4 479.4,929.7 483.3,914.1 487.2,846.8 489.8,859.8 492.4,850.7 497.6,806.7 498.9,817.1 502.8,789.9 507.5,795.3 511.5,779.6 517.5,767.2 522.5,764.8 524.5,771.8 528.3,735.8 533.5,763.3 538.5,758.9 549.8,784.7 554.8,778.7 562.7,748.9 570.7,745.9 573.7,738.0 578.6,733.0 582.6,718.1 584.6,726.1 594.5,714.1 597.5,722.1 602.5,716.1 606.4,704.2 608.4,715.1 618.4,707.2 622.3,699.2 629.3,677.4 636.2,702.2 638.0,704.2 643.9,702.2 646.9,696.3 651.9,650.6 654.8,678.4 662.8,696.3 665.8,670.4 667.8,686.3 671.7,682.4 677.7,684.3 681.7,690.3 689.6,688.3 690.6,682.4 697.6,702.2 711.5,650.6 717.4,657.5 722.4,654.5 725.4,676.4 731.3,692.3 737.3,665.5 747.2,700.2 750.2,686.3 755.2,680.4 761.1,634.7 767.1,662.5 772.1,654.5 781.0,672.4 790.9,643.6 794.9,652.6 797.9,660.5 804.8,653.5 807.8,659.5 810.8,688.3 813.8,688.3 820.7,710.2 826.7,736.0 829.0,770.0 831.0,780.6 836.3,795.5 839.5,817.8 843.7,821.0 849.0,827.3 853.3,842.2 856.5,865.6 860.7,878.3 863.9,893.2 867.1,899.6 873.5,914.4 876.6,993.1" fill="none" stroke="#d97a4a" stroke-width="5.5" stroke-linejoin="round" stroke-linecap="butt"/>
</g>
<g clip-path="url(#k11)">
<polyline points="168.4,993.1 258.1,993.1 260.7,958.2 260.7,956.9 265.9,953.0 271.1,950.4 273.7,953.0 276.2,943.9 280.1,946.5 282.7,943.9 286.6,949.1 291.8,943.9 297.0,936.2 302.1,940.0 306.0,941.3 309.9,936.2 317.7,934.9 322.8,938.7 330.6,938.7 338.4,933.6 343.5,932.3 351.3,940.0 359.1,934.9 366.8,931.0 372.0,925.8 375.9,936.2 385.0,932.3 395.3,929.7 410.9,929.7 421.2,931.0 431.6,927.1 436.7,932.3 447.1,929.7 457.4,924.5 462.6,928.4 479.4,929.7 483.3,914.1 487.2,846.8 489.8,859.8 492.4,850.7 497.6,806.7 498.9,817.1 502.8,789.9 507.5,795.3 511.5,779.6 517.5,767.2 522.5,764.8 524.5,771.8 528.3,735.8 533.5,763.3 538.5,758.9 549.8,784.7 554.8,778.7 562.7,748.9 570.7,745.9 573.7,738.0 578.6,733.0 582.6,718.1 584.6,726.1 594.5,714.1 597.5,722.1 602.5,716.1 606.4,704.2 608.4,715.1 618.4,707.2 622.3,699.2 629.3,677.4 636.2,702.2 638.0,704.2 643.9,702.2 646.9,696.3 651.9,650.6 654.8,678.4 662.8,696.3 665.8,670.4 667.8,686.3 671.7,682.4 677.7,684.3 681.7,690.3 689.6,688.3 690.6,682.4 697.6,702.2 711.5,650.6 717.4,657.5 722.4,654.5 725.4,676.4 731.3,692.3 737.3,665.5 747.2,700.2 750.2,686.3 755.2,680.4 761.1,634.7 767.1,662.5 772.1,654.5 781.0,672.4 790.9,643.6 794.9,652.6 797.9,660.5 804.8,653.5 807.8,659.5 810.8,688.3 813.8,688.3 820.7,710.2 826.7,736.0 829.0,770.0 831.0,780.6 836.3,795.5 839.5,817.8 843.7,821.0 849.0,827.3 853.3,842.2 856.5,865.6 860.7,878.3 863.9,893.2 867.1,899.6 873.5,914.4 876.6,993.1" fill="none" stroke="#c24a5a" stroke-width="5.5" stroke-linejoin="round" stroke-linecap="butt"/>
</g>
<rect x="181.8" y="613.4" width="26.1" height="12.3" fill="#f7ee9a"/>
<rect x="181.8" y="639.0" width="26.1" height="12.3" fill="#dac8dc"/>
<rect x="181.8" y="664.2" width="26.1" height="12.3" fill="#dadbde"/>
<rect x="181.8" y="689.5" width="26.1" height="12.3" fill="#7a7479"/>
<g fill="#231f20" font-size="21.35"><text x="211.8" y="628.1">Conduction Mode</text><text x="211.8" y="653.7">Transition Zone</text><text x="211.8" y="678.9">Keyhole Mode</text><text x="211.8" y="704.2">Solidification</text></g>
<g stroke="#262626" stroke-width="2" fill="none"><rect x="1094.9" y="599.8" width="761.9" height="400.2"/><path d="M1094.9 1000.0V991.0"/><path d="M1179.4 1000.0V991.0M1175.7 599.8V608.8"/><path d="M1263.8 1000.0V991.0M1260.1 599.8V608.8"/><path d="M1348.2 1000.0V991.0M1344.5 599.8V608.8"/><path d="M1432.7 1000.0V991.0M1429.0 599.8V608.8"/><path d="M1517.2 1000.0V991.0M1513.5 599.8V608.8"/><path d="M1601.6 1000.0V991.0M1597.9 599.8V608.8"/><path d="M1686.1 1000.0V991.0M1682.4 599.8V608.8"/><path d="M1770.5 1000.0V991.0M1766.8 599.8V608.8"/><path d="M1855.0 1000.0V991.0M1851.3 599.8V608.8"/><path d="M1094.9 1000.0H1103.9M1856.8 1000.0H1847.8"/><path d="M1094.9 939.4H1103.9M1856.8 939.4H1847.8"/><path d="M1094.9 878.7H1103.9M1856.8 878.7H1847.8"/><path d="M1094.9 818.1H1103.9M1856.8 818.1H1847.8"/><path d="M1094.9 757.5H1103.9M1856.8 757.5H1847.8"/><path d="M1094.9 696.8H1103.9M1856.8 696.8H1847.8"/><path d="M1094.9 636.2H1103.9M1856.8 636.2H1847.8"/></g><g fill="#262626" font-size="27"><text x="1091.4" y="1036.8" text-anchor="middle">2</text><text x="1175.9" y="1036.8" text-anchor="middle">2.5</text><text x="1260.3" y="1036.8" text-anchor="middle">3</text><text x="1344.8" y="1036.8" text-anchor="middle">3.5</text><text x="1429.2" y="1036.8" text-anchor="middle">4</text><text x="1513.7" y="1036.8" text-anchor="middle">4.5</text><text x="1598.1" y="1036.8" text-anchor="middle">5</text><text x="1682.6" y="1036.8" text-anchor="middle">5.5</text><text x="1767.0" y="1036.8" text-anchor="middle">6</text><text x="1851.5" y="1036.8" text-anchor="middle">6.5</text><text x="1085.1" y="1009.6" text-anchor="end">0</text><text x="1085.1" y="949.0" text-anchor="end">0.5</text><text x="1085.1" y="888.3" text-anchor="end">1</text><text x="1085.1" y="827.7" text-anchor="end">1.5</text><text x="1085.1" y="767.1" text-anchor="end">2</text><text x="1085.1" y="706.4" text-anchor="end">2.5</text><text x="1085.1" y="645.8" text-anchor="end">3</text></g>
<rect x="1191.9" y="598.8" width="307.2" height="150.0" fill="#f7ee9a"/>
<rect x="1452.9" y="733.1" width="46.2" height="108.5" fill="#dac8dc"/>
<rect x="1292.3" y="799.6" width="564.5" height="91.9" fill="#dadbde"/>
<rect x="1452.9" y="733.1" width="46.2" height="15.7" fill="#e3d69a"/>
<rect x="1452.9" y="799.6" width="46.2" height="42.0" fill="#c4b4c4"/>
<g stroke="#303032" stroke-width="2" fill="none"><rect x="1094.9" y="599.8" width="761.9" height="400.2"/><path d="M1094.9 1000.0V991.0"/><path d="M1179.4 1000.0V991.0M1175.7 599.8V608.8"/><path d="M1263.8 1000.0V991.0M1260.1 599.8V608.8"/><path d="M1348.2 1000.0V991.0M1344.5 599.8V608.8"/><path d="M1432.7 1000.0V991.0M1429.0 599.8V608.8"/><path d="M1517.2 1000.0V991.0M1513.5 599.8V608.8"/><path d="M1601.6 1000.0V991.0M1597.9 599.8V608.8"/><path d="M1686.1 1000.0V991.0M1682.4 599.8V608.8"/><path d="M1770.5 1000.0V991.0M1766.8 599.8V608.8"/><path d="M1855.0 1000.0V991.0M1851.3 599.8V608.8"/><path d="M1094.9 1000.0H1103.9M1856.8 1000.0H1847.8"/><path d="M1094.9 939.4H1103.9M1856.8 939.4H1847.8"/><path d="M1094.9 878.7H1103.9M1856.8 878.7H1847.8"/><path d="M1094.9 818.1H1103.9M1856.8 818.1H1847.8"/><path d="M1094.9 757.5H1103.9M1856.8 757.5H1847.8"/><path d="M1094.9 696.8H1103.9M1856.8 696.8H1847.8"/><path d="M1094.9 636.2H1103.9M1856.8 636.2H1847.8"/></g>
<line x1="1191.9" y1="599.8" x2="1499.1" y2="599.8" stroke="#716c4c" stroke-width="2"/>
<line x1="1260.1" y1="599.8" x2="1260.1" y2="608.8" stroke="#716c4c" stroke-width="2"/>
<line x1="1344.5" y1="599.8" x2="1344.5" y2="608.8" stroke="#716c4c" stroke-width="2"/>
<line x1="1429.0" y1="599.8" x2="1429.0" y2="608.8" stroke="#716c4c" stroke-width="2"/>
<g clip-path="url(#k12)">
<polyline points="1094.6,999.0 1298.1,999.0 1301.3,814.0 1303.4,848.0 1307.6,848.0 1315.1,850.1 1319.3,864.0 1324.6,866.1 1327.8,877.8 1336.3,870.3 1343.8,852.3 1348.0,865.0 1352.3,870.3 1359.7,862.9 1362.9,853.3 1367.1,857.6 1371.4,848.0 1378.8,854.4 1385.2,837.4 1389.5,838.4 1395.8,856.5 1401.1,841.6 1405.4,844.8 1409.6,839.5 1416.0,837.4 1420.3,857.6 1428.8,859.7 1435.2,864.0 1442.6,860.8 1452.2,864.0 1458.5,852.3 1461.7,883.1 1468.1,883.1 1477.8,876.5 1485.5,879.8 1487.2,859.9 1492.7,864.3 1494.4,852.1 1498.8,848.8 1505.5,833.2 1511.0,836.6 1512.2,839.9 1515.5,843.2 1518.8,839.9 1525.5,829.9 1527.1,827.7 1532.1,821.0 1534.3,829.9 1543.2,824.4 1546.5,816.6 1552.1,823.3 1554.3,827.7 1558.7,829.9 1564.3,839.9 1565.4,841.0 1569.8,831.0 1573.2,832.1 1578.2,841.0 1585.4,827.7 1587.6,835.5 1595.3,833.2 1599.2,834.4 1608.7,835.5 1617.5,839.9 1619.8,841.0 1620.9,857.6 1623.1,857.6 1628.6,851.0 1634.2,854.3 1641.9,858.8 1644.2,857.6 1649.7,846.6 1654.1,849.9 1657.5,851.0 1659.7,839.9 1663.3,831.0 1665.5,837.7 1674.4,841.0 1682.2,846.6 1687.7,832.1 1695.5,817.7 1702.2,821.0 1705.5,827.7 1711.0,829.9 1714.4,848.8 1716.6,854.3 1726.6,845.4 1729.9,838.8 1737.6,837.7 1744.3,831.0 1748.7,835.5 1752.1,827.7 1754.3,837.7 1759.8,843.2 1766.5,845.4 1773.1,853.2 1775.4,846.6 1782.0,846.6 1788.7,837.7 1795.3,832.1 1799.8,833.2 1803.1,842.1 1808.6,836.6 1812.0,845.4 1817.5,845.4 1820.8,844.3 1827.5,834.4 1830.8,828.8 1836.4,816.6 1841.9,821.0 1846.4,826.6 1850.8,818.8 1851.9,805.5 1855.2,802.2 1856.5,796.6" fill="none" stroke="#050505" stroke-width="5.2" stroke-linejoin="round" stroke-linecap="butt"/>
<g fill="#050505"><circle cx="1094.6" cy="999.0" r="3.6"/><circle cx="1097.1" cy="999.0" r="3.6"/><circle cx="1099.6" cy="999.0" r="3.6"/><circle cx="1102.1" cy="999.0" r="3.6"/><circle cx="1104.6" cy="999.0" r="3.6"/><circle cx="1107.2" cy="999.0" r="3.6"/><circle cx="1109.7" cy="999.0" r="3.6"/><circle cx="1112.2" cy="999.0" r="3.6"/><circle cx="1114.7" cy="999.0" r="3.6"/><circle cx="1117.2" cy="999.0" r="3.6"/><circle cx="1119.7" cy="999.0" r="3.6"/><circle cx="1122.2" cy="999.0" r="3.6"/><circle cx="1124.7" cy="999.0" r="3.6"/><circle cx="1127.3" cy="999.0" r="3.6"/><circle cx="1129.8" cy="999.0" r="3.6"/><circle cx="1132.3" cy="999.0" r="3.6"/><circle cx="1134.8" cy="999.0" r="3.6"/><circle cx="1137.3" cy="999.0" r="3.6"/><circle cx="1139.8" cy="999.0" r="3.6"/><circle cx="1142.3" cy="999.0" r="3.6"/><circle cx="1144.8" cy="999.0" r="3.6"/><circle cx="1147.4" cy="999.0" r="3.6"/><circle cx="1149.9" cy="999.0" r="3.6"/><circle cx="1152.4" cy="999.0" r="3.6"/><circle cx="1154.9" cy="999.0" r="3.6"/><circle cx="1157.4" cy="999.0" r="3.6"/><circle cx="1159.9" cy="999.0" r="3.6"/><circle cx="1162.4" cy="999.0" r="3.6"/><circle cx="1164.9" cy="999.0" r="3.6"/><circle cx="1167.5" cy="999.0" r="3.6"/><circle cx="1170.0" cy="999.0" r="3.6"/><circle cx="1172.5" cy="999.0" r="3.6"/><circle cx="1175.0" cy="999.0" r="3.6"/><circle cx="1177.5" cy="999.0" r="3.6"/><circle cx="1180.0" cy="999.0" r="3.6"/><circle cx="1182.5" cy="999.0" r="3.6"/><circle cx="1185.0" cy="999.0" r="3.6"/><circle cx="1187.6" cy="999.0" r="3.6"/><circle cx="1190.1" cy="999.0" r="3.6"/><circle cx="1192.6" cy="999.0" r="3.6"/><circle cx="1195.1" cy="999.0" r="3.6"/><circle cx="1197.6" cy="999.0" r="3.6"/><circle cx="1200.1" cy="999.0" r="3.6"/><circle cx="1202.6" cy="999.0" r="3.6"/><circle cx="1205.1" cy="999.0" r="3.6"/><circle cx="1207.7" cy="999.0" r="3.6"/><circle cx="1210.2" cy="999.0" r="3.6"/><circle cx="1212.7" cy="999.0" r="3.6"/><circle cx="1215.2" cy="999.0" r="3.6"/><circle cx="1217.7" cy="999.0" r="3.6"/><circle cx="1220.2" cy="999.0" r="3.6"/><circle cx="1222.7" cy="999.0" r="3.6"/><circle cx="1225.2" cy="999.0" r="3.6"/><circle cx="1227.8" cy="999.0" r="3.6"/><circle cx="1230.3" cy="999.0" r="3.6"/><circle cx="1232.8" cy="999.0" r="3.6"/><circle cx="1235.3" cy="999.0" r="3.6"/><circle cx="1237.8" cy="999.0" r="3.6"/><circle cx="1240.3" cy="999.0" r="3.6"/><circle cx="1242.8" cy="999.0" r="3.6"/><circle cx="1245.3" cy="999.0" r="3.6"/><circle cx="1247.9" cy="999.0" r="3.6"/><circle cx="1250.4" cy="999.0" r="3.6"/><circle cx="1252.9" cy="999.0" r="3.6"/><circle cx="1255.4" cy="999.0" r="3.6"/><circle cx="1257.9" cy="999.0" r="3.6"/><circle cx="1260.4" cy="999.0" r="3.6"/><circle cx="1262.9" cy="999.0" r="3.6"/><circle cx="1265.4" cy="999.0" r="3.6"/><circle cx="1268.0" cy="999.0" r="3.6"/><circle cx="1270.5" cy="999.0" r="3.6"/><circle cx="1273.0" cy="999.0" r="3.6"/><circle cx="1275.5" cy="999.0" r="3.6"/><circle cx="1278.0" cy="999.0" r="3.6"/><circle cx="1280.5" cy="999.0" r="3.6"/><circle cx="1283.0" cy="999.0" r="3.6"/><circle cx="1285.5" cy="999.0" r="3.6"/><circle cx="1288.1" cy="999.0" r="3.6"/><circle cx="1290.6" cy="999.0" r="3.6"/><circle cx="1293.1" cy="999.0" r="3.6"/><circle cx="1295.6" cy="999.0" r="3.6"/><circle cx="1298.1" cy="999.0" r="3.6"/><circle cx="1301.3" cy="814.0" r="3.6"/><circle cx="1303.4" cy="848.0" r="3.6"/><circle cx="1305.5" cy="848.0" r="3.6"/><circle cx="1307.6" cy="848.0" r="3.6"/><circle cx="1310.1" cy="848.7" r="3.6"/><circle cx="1312.6" cy="849.4" r="3.6"/><circle cx="1315.1" cy="850.1" r="3.6"/><circle cx="1317.2" cy="857.0" r="3.6"/><circle cx="1319.3" cy="864.0" r="3.6"/><circle cx="1321.9" cy="865.0" r="3.6"/><circle cx="1324.6" cy="866.1" r="3.6"/><circle cx="1327.8" cy="877.8" r="3.6"/><circle cx="1330.6" cy="875.3" r="3.6"/><circle cx="1333.5" cy="872.8" r="3.6"/><circle cx="1336.3" cy="870.3" r="3.6"/><circle cx="1338.8" cy="864.3" r="3.6"/><circle cx="1341.3" cy="858.3" r="3.6"/><circle cx="1343.8" cy="852.3" r="3.6"/><circle cx="1345.9" cy="858.6" r="3.6"/><circle cx="1348.0" cy="865.0" r="3.6"/><circle cx="1350.2" cy="867.6" r="3.6"/><circle cx="1352.3" cy="870.3" r="3.6"/><circle cx="1354.8" cy="867.8" r="3.6"/><circle cx="1357.2" cy="865.4" r="3.6"/><circle cx="1359.7" cy="862.9" r="3.6"/><circle cx="1362.9" cy="853.3" r="3.6"/><circle cx="1365.0" cy="855.5" r="3.6"/><circle cx="1367.1" cy="857.6" r="3.6"/><circle cx="1369.2" cy="852.8" r="3.6"/><circle cx="1371.4" cy="848.0" r="3.6"/><circle cx="1373.9" cy="850.1" r="3.6"/><circle cx="1376.3" cy="852.3" r="3.6"/><circle cx="1378.8" cy="854.4" r="3.6"/><circle cx="1380.9" cy="848.7" r="3.6"/><circle cx="1383.1" cy="843.1" r="3.6"/><circle cx="1385.2" cy="837.4" r="3.6"/><circle cx="1387.3" cy="837.9" r="3.6"/><circle cx="1389.5" cy="838.4" r="3.6"/><circle cx="1391.6" cy="844.4" r="3.6"/><circle cx="1393.7" cy="850.5" r="3.6"/><circle cx="1395.8" cy="856.5" r="3.6"/><circle cx="1398.4" cy="849.0" r="3.6"/><circle cx="1401.1" cy="841.6" r="3.6"/><circle cx="1403.2" cy="843.2" r="3.6"/><circle cx="1405.4" cy="844.8" r="3.6"/><circle cx="1407.5" cy="842.1" r="3.6"/><circle cx="1409.6" cy="839.5" r="3.6"/><circle cx="1411.7" cy="838.8" r="3.6"/><circle cx="1413.9" cy="838.1" r="3.6"/><circle cx="1416.0" cy="837.4" r="3.6"/><circle cx="1418.2" cy="847.5" r="3.6"/><circle cx="1420.3" cy="857.6" r="3.6"/><circle cx="1423.1" cy="858.3" r="3.6"/><circle cx="1426.0" cy="859.0" r="3.6"/><circle cx="1428.8" cy="859.7" r="3.6"/><circle cx="1430.9" cy="861.1" r="3.6"/><circle cx="1433.1" cy="862.6" r="3.6"/><circle cx="1435.2" cy="864.0" r="3.6"/><circle cx="1437.7" cy="862.9" r="3.6"/><circle cx="1440.1" cy="861.9" r="3.6"/><circle cx="1442.6" cy="860.8" r="3.6"/><circle cx="1445.0" cy="861.6" r="3.6"/><circle cx="1447.4" cy="862.4" r="3.6"/><circle cx="1449.8" cy="863.2" r="3.6"/><circle cx="1452.2" cy="864.0" r="3.6"/><circle cx="1454.3" cy="860.1" r="3.6"/><circle cx="1456.4" cy="856.2" r="3.6"/><circle cx="1458.5" cy="852.3" r="3.6"/><circle cx="1461.7" cy="883.1" r="3.6"/><circle cx="1463.8" cy="883.1" r="3.6"/><circle cx="1466.0" cy="883.1" r="3.6"/><circle cx="1468.1" cy="883.1" r="3.6"/><circle cx="1470.5" cy="881.5" r="3.6"/><circle cx="1472.9" cy="879.8" r="3.6"/><circle cx="1475.4" cy="878.1" r="3.6"/><circle cx="1477.8" cy="876.5" r="3.6"/><circle cx="1480.4" cy="877.6" r="3.6"/><circle cx="1482.9" cy="878.7" r="3.6"/><circle cx="1485.5" cy="879.8" r="3.6"/><circle cx="1487.2" cy="859.9" r="3.6"/><circle cx="1490.0" cy="862.1" r="3.6"/><circle cx="1492.7" cy="864.3" r="3.6"/><circle cx="1494.4" cy="852.1" r="3.6"/><circle cx="1496.6" cy="850.5" r="3.6"/><circle cx="1498.8" cy="848.8" r="3.6"/><circle cx="1501.0" cy="843.6" r="3.6"/><circle cx="1503.3" cy="838.4" r="3.6"/><circle cx="1505.5" cy="833.2" r="3.6"/><circle cx="1508.2" cy="834.9" r="3.6"/><circle cx="1511.0" cy="836.6" r="3.6"/><circle cx="1512.2" cy="839.9" r="3.6"/><circle cx="1515.5" cy="843.2" r="3.6"/><circle cx="1518.8" cy="839.9" r="3.6"/><circle cx="1521.0" cy="836.6" r="3.6"/><circle cx="1523.3" cy="833.2" r="3.6"/><circle cx="1525.5" cy="829.9" r="3.6"/><circle cx="1527.1" cy="827.7" r="3.6"/><circle cx="1529.6" cy="824.4" r="3.6"/><circle cx="1532.1" cy="821.0" r="3.6"/><circle cx="1534.3" cy="829.9" r="3.6"/><circle cx="1536.5" cy="828.5" r="3.6"/><circle cx="1538.8" cy="827.1" r="3.6"/><circle cx="1541.0" cy="825.8" r="3.6"/><circle cx="1543.2" cy="824.4" r="3.6"/><circle cx="1546.5" cy="816.6" r="3.6"/><circle cx="1549.3" cy="820.0" r="3.6"/><circle cx="1552.1" cy="823.3" r="3.6"/><circle cx="1554.3" cy="827.7" r="3.6"/><circle cx="1556.5" cy="828.8" r="3.6"/><circle cx="1558.7" cy="829.9" r="3.6"/><circle cx="1561.5" cy="834.9" r="3.6"/><circle cx="1564.3" cy="839.9" r="3.6"/><circle cx="1565.4" cy="841.0" r="3.6"/><circle cx="1567.6" cy="836.0" r="3.6"/><circle cx="1569.8" cy="831.0" r="3.6"/><circle cx="1573.2" cy="832.1" r="3.6"/><circle cx="1575.7" cy="836.5" r="3.6"/><circle cx="1578.2" cy="841.0" r="3.6"/><circle cx="1580.6" cy="836.6" r="3.6"/><circle cx="1583.0" cy="832.1" r="3.6"/><circle cx="1585.4" cy="827.7" r="3.6"/><circle cx="1587.6" cy="835.5" r="3.6"/><circle cx="1590.2" cy="834.7" r="3.6"/><circle cx="1592.7" cy="834.0" r="3.6"/><circle cx="1595.3" cy="833.2" r="3.6"/><circle cx="1597.2" cy="833.8" r="3.6"/><circle cx="1599.2" cy="834.4" r="3.6"/><circle cx="1601.6" cy="834.7" r="3.6"/><circle cx="1604.0" cy="835.0" r="3.6"/><circle cx="1606.3" cy="835.2" r="3.6"/><circle cx="1608.7" cy="835.5" r="3.6"/><circle cx="1610.9" cy="836.6" r="3.6"/><circle cx="1613.1" cy="837.7" r="3.6"/><circle cx="1615.3" cy="838.8" r="3.6"/><circle cx="1617.5" cy="839.9" r="3.6"/><circle cx="1619.8" cy="841.0" r="3.6"/><circle cx="1620.9" cy="857.6" r="3.6"/><circle cx="1623.1" cy="857.6" r="3.6"/><circle cx="1625.8" cy="854.3" r="3.6"/><circle cx="1628.6" cy="851.0" r="3.6"/><circle cx="1631.4" cy="852.6" r="3.6"/><circle cx="1634.2" cy="854.3" r="3.6"/><circle cx="1636.8" cy="855.8" r="3.6"/><circle cx="1639.3" cy="857.3" r="3.6"/><circle cx="1641.9" cy="858.8" r="3.6"/><circle cx="1644.2" cy="857.6" r="3.6"/><circle cx="1647.0" cy="852.1" r="3.6"/><circle cx="1649.7" cy="846.6" r="3.6"/><circle cx="1651.9" cy="848.2" r="3.6"/><circle cx="1654.1" cy="849.9" r="3.6"/><circle cx="1657.5" cy="851.0" r="3.6"/><circle cx="1659.7" cy="839.9" r="3.6"/><circle cx="1663.3" cy="831.0" r="3.6"/><circle cx="1665.5" cy="837.7" r="3.6"/><circle cx="1667.7" cy="838.5" r="3.6"/><circle cx="1670.0" cy="839.4" r="3.6"/><circle cx="1672.2" cy="840.2" r="3.6"/><circle cx="1674.4" cy="841.0" r="3.6"/><circle cx="1677.0" cy="842.9" r="3.6"/><circle cx="1679.6" cy="844.7" r="3.6"/><circle cx="1682.2" cy="846.6" r="3.6"/><circle cx="1685.0" cy="839.4" r="3.6"/><circle cx="1687.7" cy="832.1" r="3.6"/><circle cx="1690.3" cy="827.3" r="3.6"/><circle cx="1692.9" cy="822.5" r="3.6"/><circle cx="1695.5" cy="817.7" r="3.6"/><circle cx="1697.7" cy="818.8" r="3.6"/><circle cx="1700.0" cy="819.9" r="3.6"/><circle cx="1702.2" cy="821.0" r="3.6"/><circle cx="1705.5" cy="827.7" r="3.6"/><circle cx="1708.2" cy="828.8" r="3.6"/><circle cx="1711.0" cy="829.9" r="3.6"/><circle cx="1714.4" cy="848.8" r="3.6"/><circle cx="1716.6" cy="854.3" r="3.6"/><circle cx="1719.1" cy="852.1" r="3.6"/><circle cx="1721.6" cy="849.8" r="3.6"/><circle cx="1724.1" cy="847.6" r="3.6"/><circle cx="1726.6" cy="845.4" r="3.6"/><circle cx="1729.9" cy="838.8" r="3.6"/><circle cx="1732.5" cy="838.4" r="3.6"/><circle cx="1735.0" cy="838.1" r="3.6"/><circle cx="1737.6" cy="837.7" r="3.6"/><circle cx="1739.8" cy="835.5" r="3.6"/><circle cx="1742.1" cy="833.2" r="3.6"/><circle cx="1744.3" cy="831.0" r="3.6"/><circle cx="1746.5" cy="833.2" r="3.6"/><circle cx="1748.7" cy="835.5" r="3.6"/><circle cx="1752.1" cy="827.7" r="3.6"/><circle cx="1754.3" cy="837.7" r="3.6"/><circle cx="1757.0" cy="840.5" r="3.6"/><circle cx="1759.8" cy="843.2" r="3.6"/><circle cx="1762.0" cy="843.9" r="3.6"/><circle cx="1764.3" cy="844.7" r="3.6"/><circle cx="1766.5" cy="845.4" r="3.6"/><circle cx="1768.7" cy="848.0" r="3.6"/><circle cx="1770.9" cy="850.6" r="3.6"/><circle cx="1773.1" cy="853.2" r="3.6"/><circle cx="1775.4" cy="846.6" r="3.6"/><circle cx="1777.6" cy="846.6" r="3.6"/><circle cx="1779.8" cy="846.6" r="3.6"/><circle cx="1782.0" cy="846.6" r="3.6"/><circle cx="1784.2" cy="843.6" r="3.6"/><circle cx="1786.5" cy="840.7" r="3.6"/><circle cx="1788.7" cy="837.7" r="3.6"/><circle cx="1790.9" cy="835.8" r="3.6"/><circle cx="1793.1" cy="834.0" r="3.6"/><circle cx="1795.3" cy="832.1" r="3.6"/><circle cx="1797.5" cy="832.7" r="3.6"/><circle cx="1799.8" cy="833.2" r="3.6"/><circle cx="1803.1" cy="842.1" r="3.6"/><circle cx="1805.8" cy="839.4" r="3.6"/><circle cx="1808.6" cy="836.6" r="3.6"/><circle cx="1812.0" cy="845.4" r="3.6"/><circle cx="1814.8" cy="845.4" r="3.6"/><circle cx="1817.5" cy="845.4" r="3.6"/><circle cx="1820.8" cy="844.3" r="3.6"/><circle cx="1823.0" cy="841.0" r="3.6"/><circle cx="1825.3" cy="837.7" r="3.6"/><circle cx="1827.5" cy="834.4" r="3.6"/><circle cx="1830.8" cy="828.8" r="3.6"/><circle cx="1833.6" cy="822.7" r="3.6"/><circle cx="1836.4" cy="816.6" r="3.6"/><circle cx="1839.2" cy="818.8" r="3.6"/><circle cx="1841.9" cy="821.0" r="3.6"/><circle cx="1844.2" cy="823.8" r="3.6"/><circle cx="1846.4" cy="826.6" r="3.6"/><circle cx="1848.6" cy="822.7" r="3.6"/><circle cx="1850.8" cy="818.8" r="3.6"/><circle cx="1851.9" cy="805.5" r="3.6"/><circle cx="1855.2" cy="802.2" r="3.6"/><circle cx="1856.5" cy="796.6" r="3.6"/></g>
<polyline points="1094.6,999.0 1203.3,999.0 1204.6,748.9 1205.5,630.4 1208.1,600.5 1212.5,600.5 1213.4,623.4 1216.9,635.7 1221.3,604.0 1224.8,697.1 1228.3,629.5 1234.4,672.5 1237.1,640.9 1240.6,640.0 1243.2,650.6 1247.6,640.0 1250.2,722.6 1253.7,659.4 1257.3,671.7 1260.8,662.9 1266.9,692.7 1270.4,665.5 1276.6,690.1 1280.1,667.3 1284.5,667.3 1287.1,640.0 1293.3,675.2 1296.8,662.0 1302.9,691.0 1311.7,676.0 1316.1,652.3 1319.6,673.4 1324.0,674.3 1325.7,682.2 1332.8,681.3 1335.4,712.9 1338.9,723.5 1345.0,712.9 1345.9,665.5 1353.0,699.7 1355.6,691.0 1359.1,700.6 1362.6,662.9 1368.8,708.5 1373.2,701.5 1374.9,711.2 1379.1,717.2 1382.2,706.1 1389.3,682.7 1392.4,737.6 1395.4,715.2 1399.5,717.2 1402.5,698.9 1406.6,715.2 1411.7,740.6 1418.8,692.8 1423.9,704.0 1427.9,721.3 1431.0,714.2 1435.0,729.4 1441.1,694.9 1444.2,717.2 1448.3,689.8 1452.3,707.1 1455.4,709.1 1458.4,721.3 1460.4,711.1 1464.5,715.2 1467.6,690.8 1471.6,688.8 1473.7,735.5 1474.7,792.4 1477.7,831.1 1480.8,799.6 1490.5,842.1 1494.4,834.4 1498.8,845.4 1503.3,845.4 1504.9,837.7 1511.0,857.1 1517.7,849.9 1524.4,836.6 1529.3,862.1 1533.2,838.8 1538.8,834.4 1545.4,826.6 1553.2,804.4 1556.5,825.5 1563.2,810.0 1566.5,826.6 1575.4,837.7 1579.8,827.7 1583.1,842.1 1592.0,849.9 1595.3,838.8 1605.3,852.1 1610.9,839.9 1615.3,852.1 1627.5,843.2 1636.4,851.0 1639.7,835.5 1643.0,848.8 1651.9,851.0 1656.4,836.6 1660.8,834.4 1664.4,841.0 1675.5,864.3 1678.9,848.8 1688.8,835.5 1692.2,852.1 1698.3,836.6 1701.6,849.9 1706.6,843.2 1715.5,833.2 1726.6,832.1 1734.3,828.8 1741.0,832.1 1746.5,847.7 1754.3,853.2 1760.9,847.7 1770.9,822.2 1776.5,831.0 1777.6,841.0 1790.9,813.3 1795.3,826.6 1799.8,827.7 1806.4,851.0 1813.1,842.1 1818.6,838.8 1823.1,839.9 1830.8,826.6 1835.3,825.5 1843.0,844.3 1850.8,828.8 1855.2,837.7" fill="none" stroke="#e8273a" stroke-width="5.5" stroke-linejoin="round" stroke-linecap="butt"/>
</g>
<g clip-path="url(#k13)">
<polyline points="1094.6,999.0 1203.3,999.0 1204.6,748.9 1205.5,630.4 1208.1,600.5 1212.5,600.5 1213.4,623.4 1216.9,635.7 1221.3,604.0 1224.8,697.1 1228.3,629.5 1234.4,672.5 1237.1,640.9 1240.6,640.0 1243.2,650.6 1247.6,640.0 1250.2,722.6 1253.7,659.4 1257.3,671.7 1260.8,662.9 1266.9,692.7 1270.4,665.5 1276.6,690.1 1280.1,667.3 1284.5,667.3 1287.1,640.0 1293.3,675.2 1296.8,662.0 1302.9,691.0 1311.7,676.0 1316.1,652.3 1319.6,673.4 1324.0,674.3 1325.7,682.2 1332.8,681.3 1335.4,712.9 1338.9,723.5 1345.0,712.9 1345.9,665.5 1353.0,699.7 1355.6,691.0 1359.1,700.6 1362.6,662.9 1368.8,708.5 1373.2,701.5 1374.9,711.2 1379.1,717.2 1382.2,706.1 1389.3,682.7 1392.4,737.6 1395.4,715.2 1399.5,717.2 1402.5,698.9 1406.6,715.2 1411.7,740.6 1418.8,692.8 1423.9,704.0 1427.9,721.3 1431.0,714.2 1435.0,729.4 1441.1,694.9 1444.2,717.2 1448.3,689.8 1452.3,707.1 1455.4,709.1 1458.4,721.3 1460.4,711.1 1464.5,715.2 1467.6,690.8 1471.6,688.8 1473.7,735.5 1474.7,792.4 1477.7,831.1 1480.8,799.6 1490.5,842.1 1494.4,834.4 1498.8,845.4 1503.3,845.4 1504.9,837.7 1511.0,857.1 1517.7,849.9 1524.4,836.6 1529.3,862.1 1533.2,838.8 1538.8,834.4 1545.4,826.6 1553.2,804.4 1556.5,825.5 1563.2,810.0 1566.5,826.6 1575.4,837.7 1579.8,827.7 1583.1,842.1 1592.0,849.9 1595.3,838.8 1605.3,852.1 1610.9,839.9 1615.3,852.1 1627.5,843.2 1636.4,851.0 1639.7,835.5 1643.0,848.8 1651.9,851.0 1656.4,836.6 1660.8,834.4 1664.4,841.0 1675.5,864.3 1678.9,848.8 1688.8,835.5 1692.2,852.1 1698.3,836.6 1701.6,849.9 1706.6,843.2 1715.5,833.2 1726.6,832.1 1734.3,828.8 1741.0,832.1 1746.5,847.7 1754.3,853.2 1760.9,847.7 1770.9,822.2 1776.5,831.0 1777.6,841.0 1790.9,813.3 1795.3,826.6 1799.8,827.7 1806.4,851.0 1813.1,842.1 1818.6,838.8 1823.1,839.9 1830.8,826.6 1835.3,825.5 1843.0,844.3 1850.8,828.8 1855.2,837.7" fill="none" stroke="#ec8f36" stroke-width="5.5" stroke-linejoin="round" stroke-linecap="butt"/>
</g>
<g clip-path="url(#k14)">
<polyline points="1094.6,999.0 1203.3,999.0 1204.6,748.9 1205.5,630.4 1208.1,600.5 1212.5,600.5 1213.4,623.4 1216.9,635.7 1221.3,604.0 1224.8,697.1 1228.3,629.5 1234.4,672.5 1237.1,640.9 1240.6,640.0 1243.2,650.6 1247.6,640.0 1250.2,722.6 1253.7,659.4 1257.3,671.7 1260.8,662.9 1266.9,692.7 1270.4,665.5 1276.6,690.1 1280.1,667.3 1284.5,667.3 1287.1,640.0 1293.3,675.2 1296.8,662.0 1302.9,691.0 1311.7,676.0 1316.1,652.3 1319.6,673.4 1324.0,674.3 1325.7,682.2 1332.8,681.3 1335.4,712.9 1338.9,723.5 1345.0,712.9 1345.9,665.5 1353.0,699.7 1355.6,691.0 1359.1,700.6 1362.6,662.9 1368.8,708.5 1373.2,701.5 1374.9,711.2 1379.1,717.2 1382.2,706.1 1389.3,682.7 1392.4,737.6 1395.4,715.2 1399.5,717.2 1402.5,698.9 1406.6,715.2 1411.7,740.6 1418.8,692.8 1423.9,704.0 1427.9,721.3 1431.0,714.2 1435.0,729.4 1441.1,694.9 1444.2,717.2 1448.3,689.8 1452.3,707.1 1455.4,709.1 1458.4,721.3 1460.4,711.1 1464.5,715.2 1467.6,690.8 1471.6,688.8 1473.7,735.5 1474.7,792.4 1477.7,831.1 1480.8,799.6 1490.5,842.1 1494.4,834.4 1498.8,845.4 1503.3,845.4 1504.9,837.7 1511.0,857.1 1517.7,849.9 1524.4,836.6 1529.3,862.1 1533.2,838.8 1538.8,834.4 1545.4,826.6 1553.2,804.4 1556.5,825.5 1563.2,810.0 1566.5,826.6 1575.4,837.7 1579.8,827.7 1583.1,842.1 1592.0,849.9 1595.3,838.8 1605.3,852.1 1610.9,839.9 1615.3,852.1 1627.5,843.2 1636.4,851.0 1639.7,835.5 1643.0,848.8 1651.9,851.0 1656.4,836.6 1660.8,834.4 1664.4,841.0 1675.5,864.3 1678.9,848.8 1688.8,835.5 1692.2,852.1 1698.3,836.6 1701.6,849.9 1706.6,843.2 1715.5,833.2 1726.6,832.1 1734.3,828.8 1741.0,832.1 1746.5,847.7 1754.3,853.2 1760.9,847.7 1770.9,822.2 1776.5,831.0 1777.6,841.0 1790.9,813.3 1795.3,826.6 1799.8,827.7 1806.4,851.0 1813.1,842.1 1818.6,838.8 1823.1,839.9 1830.8,826.6 1835.3,825.5 1843.0,844.3 1850.8,828.8 1855.2,837.7" fill="none" stroke="#d42246" stroke-width="5.5" stroke-linejoin="round" stroke-linecap="butt"/>
</g>
<g clip-path="url(#k15)">
<polyline points="1094.6,999.0 1298.1,999.0 1301.3,814.0 1303.4,848.0 1307.6,848.0 1315.1,850.1 1319.3,864.0 1324.6,866.1 1327.8,877.8 1336.3,870.3 1343.8,852.3 1348.0,865.0 1352.3,870.3 1359.7,862.9 1362.9,853.3 1367.1,857.6 1371.4,848.0 1378.8,854.4 1385.2,837.4 1389.5,838.4 1395.8,856.5 1401.1,841.6 1405.4,844.8 1409.6,839.5 1416.0,837.4 1420.3,857.6 1428.8,859.7 1435.2,864.0 1442.6,860.8 1452.2,864.0 1458.5,852.3 1461.7,883.1 1468.1,883.1 1477.8,876.5 1485.5,879.8 1487.2,859.9 1492.7,864.3 1494.4,852.1 1498.8,848.8 1505.5,833.2 1511.0,836.6 1512.2,839.9 1515.5,843.2 1518.8,839.9 1525.5,829.9 1527.1,827.7 1532.1,821.0 1534.3,829.9 1543.2,824.4 1546.5,816.6 1552.1,823.3 1554.3,827.7 1558.7,829.9 1564.3,839.9 1565.4,841.0 1569.8,831.0 1573.2,832.1 1578.2,841.0 1585.4,827.7 1587.6,835.5 1595.3,833.2 1599.2,834.4 1608.7,835.5 1617.5,839.9 1619.8,841.0 1620.9,857.6 1623.1,857.6 1628.6,851.0 1634.2,854.3 1641.9,858.8 1644.2,857.6 1649.7,846.6 1654.1,849.9 1657.5,851.0 1659.7,839.9 1663.3,831.0 1665.5,837.7 1674.4,841.0 1682.2,846.6 1687.7,832.1 1695.5,817.7 1702.2,821.0 1705.5,827.7 1711.0,829.9 1714.4,848.8 1716.6,854.3 1726.6,845.4 1729.9,838.8 1737.6,837.7 1744.3,831.0 1748.7,835.5 1752.1,827.7 1754.3,837.7 1759.8,843.2 1766.5,845.4 1773.1,853.2 1775.4,846.6 1782.0,846.6 1788.7,837.7 1795.3,832.1 1799.8,833.2 1803.1,842.1 1808.6,836.6 1812.0,845.4 1817.5,845.4 1820.8,844.3 1827.5,834.4 1830.8,828.8 1836.4,816.6 1841.9,821.0 1846.4,826.6 1850.8,818.8 1851.9,805.5 1855.2,802.2 1856.5,796.6" fill="none" stroke="#1c1c1e" stroke-width="5.2" stroke-linejoin="round" stroke-linecap="butt"/>
<g fill="#1c1c1e"><circle cx="1301.3" cy="814.0" r="3.6"/><circle cx="1303.4" cy="848.0" r="3.6"/><circle cx="1305.5" cy="848.0" r="3.6"/><circle cx="1307.6" cy="848.0" r="3.6"/><circle cx="1310.1" cy="848.7" r="3.6"/><circle cx="1312.6" cy="849.4" r="3.6"/><circle cx="1315.1" cy="850.1" r="3.6"/><circle cx="1317.2" cy="857.0" r="3.6"/><circle cx="1319.3" cy="864.0" r="3.6"/><circle cx="1321.9" cy="865.0" r="3.6"/><circle cx="1324.6" cy="866.1" r="3.6"/><circle cx="1327.8" cy="877.8" r="3.6"/><circle cx="1330.6" cy="875.3" r="3.6"/><circle cx="1333.5" cy="872.8" r="3.6"/><circle cx="1336.3" cy="870.3" r="3.6"/><circle cx="1338.8" cy="864.3" r="3.6"/><circle cx="1341.3" cy="858.3" r="3.6"/><circle cx="1343.8" cy="852.3" r="3.6"/><circle cx="1345.9" cy="858.6" r="3.6"/><circle cx="1348.0" cy="865.0" r="3.6"/><circle cx="1350.2" cy="867.6" r="3.6"/><circle cx="1352.3" cy="870.3" r="3.6"/><circle cx="1354.8" cy="867.8" r="3.6"/><circle cx="1357.2" cy="865.4" r="3.6"/><circle cx="1359.7" cy="862.9" r="3.6"/><circle cx="1362.9" cy="853.3" r="3.6"/><circle cx="1365.0" cy="855.5" r="3.6"/><circle cx="1367.1" cy="857.6" r="3.6"/><circle cx="1369.2" cy="852.8" r="3.6"/><circle cx="1371.4" cy="848.0" r="3.6"/><circle cx="1373.9" cy="850.1" r="3.6"/><circle cx="1376.3" cy="852.3" r="3.6"/><circle cx="1378.8" cy="854.4" r="3.6"/><circle cx="1380.9" cy="848.7" r="3.6"/><circle cx="1383.1" cy="843.1" r="3.6"/><circle cx="1385.2" cy="837.4" r="3.6"/><circle cx="1387.3" cy="837.9" r="3.6"/><circle cx="1389.5" cy="838.4" r="3.6"/><circle cx="1391.6" cy="844.4" r="3.6"/><circle cx="1393.7" cy="850.5" r="3.6"/><circle cx="1395.8" cy="856.5" r="3.6"/><circle cx="1398.4" cy="849.0" r="3.6"/><circle cx="1401.1" cy="841.6" r="3.6"/><circle cx="1403.2" cy="843.2" r="3.6"/><circle cx="1405.4" cy="844.8" r="3.6"/><circle cx="1407.5" cy="842.1" r="3.6"/><circle cx="1409.6" cy="839.5" r="3.6"/><circle cx="1411.7" cy="838.8" r="3.6"/><circle cx="1413.9" cy="838.1" r="3.6"/><circle cx="1416.0" cy="837.4" r="3.6"/><circle cx="1418.2" cy="847.5" r="3.6"/><circle cx="1420.3" cy="857.6" r="3.6"/><circle cx="1423.1" cy="858.3" r="3.6"/><circle cx="1426.0" cy="859.0" r="3.6"/><circle cx="1428.8" cy="859.7" r="3.6"/><circle cx="1430.9" cy="861.1" r="3.6"/><circle cx="1433.1" cy="862.6" r="3.6"/><circle cx="1435.2" cy="864.0" r="3.6"/><circle cx="1437.7" cy="862.9" r="3.6"/><circle cx="1440.1" cy="861.9" r="3.6"/><circle cx="1442.6" cy="860.8" r="3.6"/><circle cx="1445.0" cy="861.6" r="3.6"/><circle cx="1447.4" cy="862.4" r="3.6"/><circle cx="1449.8" cy="863.2" r="3.6"/><circle cx="1452.2" cy="864.0" r="3.6"/><circle cx="1454.3" cy="860.1" r="3.6"/><circle cx="1456.4" cy="856.2" r="3.6"/><circle cx="1458.5" cy="852.3" r="3.6"/><circle cx="1461.7" cy="883.1" r="3.6"/><circle cx="1463.8" cy="883.1" r="3.6"/><circle cx="1466.0" cy="883.1" r="3.6"/><circle cx="1468.1" cy="883.1" r="3.6"/><circle cx="1470.5" cy="881.5" r="3.6"/><circle cx="1472.9" cy="879.8" r="3.6"/><circle cx="1475.4" cy="878.1" r="3.6"/><circle cx="1477.8" cy="876.5" r="3.6"/><circle cx="1480.4" cy="877.6" r="3.6"/><circle cx="1482.9" cy="878.7" r="3.6"/><circle cx="1485.5" cy="879.8" r="3.6"/><circle cx="1487.2" cy="859.9" r="3.6"/><circle cx="1490.0" cy="862.1" r="3.6"/><circle cx="1492.7" cy="864.3" r="3.6"/><circle cx="1494.4" cy="852.1" r="3.6"/><circle cx="1496.6" cy="850.5" r="3.6"/><circle cx="1498.8" cy="848.8" r="3.6"/><circle cx="1501.0" cy="843.6" r="3.6"/><circle cx="1503.3" cy="838.4" r="3.6"/><circle cx="1505.5" cy="833.2" r="3.6"/><circle cx="1508.2" cy="834.9" r="3.6"/><circle cx="1511.0" cy="836.6" r="3.6"/><circle cx="1512.2" cy="839.9" r="3.6"/><circle cx="1515.5" cy="843.2" r="3.6"/><circle cx="1518.8" cy="839.9" r="3.6"/><circle cx="1521.0" cy="836.6" r="3.6"/><circle cx="1523.3" cy="833.2" r="3.6"/><circle cx="1525.5" cy="829.9" r="3.6"/><circle cx="1527.1" cy="827.7" r="3.6"/><circle cx="1529.6" cy="824.4" r="3.6"/><circle cx="1532.1" cy="821.0" r="3.6"/><circle cx="1534.3" cy="829.9" r="3.6"/><circle cx="1536.5" cy="828.5" r="3.6"/><circle cx="1538.8" cy="827.1" r="3.6"/><circle cx="1541.0" cy="825.8" r="3.6"/><circle cx="1543.2" cy="824.4" r="3.6"/><circle cx="1546.5" cy="816.6" r="3.6"/><circle cx="1549.3" cy="820.0" r="3.6"/><circle cx="1552.1" cy="823.3" r="3.6"/><circle cx="1554.3" cy="827.7" r="3.6"/><circle cx="1556.5" cy="828.8" r="3.6"/><circle cx="1558.7" cy="829.9" r="3.6"/><circle cx="1561.5" cy="834.9" r="3.6"/><circle cx="1564.3" cy="839.9" r="3.6"/><circle cx="1565.4" cy="841.0" r="3.6"/><circle cx="1567.6" cy="836.0" r="3.6"/><circle cx="1569.8" cy="831.0" r="3.6"/><circle cx="1573.2" cy="832.1" r="3.6"/><circle cx="1575.7" cy="836.5" r="3.6"/><circle cx="1578.2" cy="841.0" r="3.6"/><circle cx="1580.6" cy="836.6" r="3.6"/><circle cx="1583.0" cy="832.1" r="3.6"/><circle cx="1585.4" cy="827.7" r="3.6"/><circle cx="1587.6" cy="835.5" r="3.6"/><circle cx="1590.2" cy="834.7" r="3.6"/><circle cx="1592.7" cy="834.0" r="3.6"/><circle cx="1595.3" cy="833.2" r="3.6"/><circle cx="1597.2" cy="833.8" r="3.6"/><circle cx="1599.2" cy="834.4" r="3.6"/><circle cx="1601.6" cy="834.7" r="3.6"/><circle cx="1604.0" cy="835.0" r="3.6"/><circle cx="1606.3" cy="835.2" r="3.6"/><circle cx="1608.7" cy="835.5" r="3.6"/><circle cx="1610.9" cy="836.6" r="3.6"/><circle cx="1613.1" cy="837.7" r="3.6"/><circle cx="1615.3" cy="838.8" r="3.6"/><circle cx="1617.5" cy="839.9" r="3.6"/><circle cx="1619.8" cy="841.0" r="3.6"/><circle cx="1620.9" cy="857.6" r="3.6"/><circle cx="1623.1" cy="857.6" r="3.6"/><circle cx="1625.8" cy="854.3" r="3.6"/><circle cx="1628.6" cy="851.0" r="3.6"/><circle cx="1631.4" cy="852.6" r="3.6"/><circle cx="1634.2" cy="854.3" r="3.6"/><circle cx="1636.8" cy="855.8" r="3.6"/><circle cx="1639.3" cy="857.3" r="3.6"/><circle cx="1641.9" cy="858.8" r="3.6"/><circle cx="1644.2" cy="857.6" r="3.6"/><circle cx="1647.0" cy="852.1" r="3.6"/><circle cx="1649.7" cy="846.6" r="3.6"/><circle cx="1651.9" cy="848.2" r="3.6"/><circle cx="1654.1" cy="849.9" r="3.6"/><circle cx="1657.5" cy="851.0" r="3.6"/><circle cx="1659.7" cy="839.9" r="3.6"/><circle cx="1663.3" cy="831.0" r="3.6"/><circle cx="1665.5" cy="837.7" r="3.6"/><circle cx="1667.7" cy="838.5" r="3.6"/><circle cx="1670.0" cy="839.4" r="3.6"/><circle cx="1672.2" cy="840.2" r="3.6"/><circle cx="1674.4" cy="841.0" r="3.6"/><circle cx="1677.0" cy="842.9" r="3.6"/><circle cx="1679.6" cy="844.7" r="3.6"/><circle cx="1682.2" cy="846.6" r="3.6"/><circle cx="1685.0" cy="839.4" r="3.6"/><circle cx="1687.7" cy="832.1" r="3.6"/><circle cx="1690.3" cy="827.3" r="3.6"/><circle cx="1692.9" cy="822.5" r="3.6"/><circle cx="1695.5" cy="817.7" r="3.6"/><circle cx="1697.7" cy="818.8" r="3.6"/><circle cx="1700.0" cy="819.9" r="3.6"/><circle cx="1702.2" cy="821.0" r="3.6"/><circle cx="1705.5" cy="827.7" r="3.6"/><circle cx="1708.2" cy="828.8" r="3.6"/><circle cx="1711.0" cy="829.9" r="3.6"/><circle cx="1714.4" cy="848.8" r="3.6"/><circle cx="1716.6" cy="854.3" r="3.6"/><circle cx="1719.1" cy="852.1" r="3.6"/><circle cx="1721.6" cy="849.8" r="3.6"/><circle cx="1724.1" cy="847.6" r="3.6"/><circle cx="1726.6" cy="845.4" r="3.6"/><circle cx="1729.9" cy="838.8" r="3.6"/><circle cx="1732.5" cy="838.4" r="3.6"/><circle cx="1735.0" cy="838.1" r="3.6"/><circle cx="1737.6" cy="837.7" r="3.6"/><circle cx="1739.8" cy="835.5" r="3.6"/><circle cx="1742.1" cy="833.2" r="3.6"/><circle cx="1744.3" cy="831.0" r="3.6"/><circle cx="1746.5" cy="833.2" r="3.6"/><circle cx="1748.7" cy="835.5" r="3.6"/><circle cx="1752.1" cy="827.7" r="3.6"/><circle cx="1754.3" cy="837.7" r="3.6"/><circle cx="1757.0" cy="840.5" r="3.6"/><circle cx="1759.8" cy="843.2" r="3.6"/><circle cx="1762.0" cy="843.9" r="3.6"/><circle cx="1764.3" cy="844.7" r="3.6"/><circle cx="1766.5" cy="845.4" r="3.6"/><circle cx="1768.7" cy="848.0" r="3.6"/><circle cx="1770.9" cy="850.6" r="3.6"/><circle cx="1773.1" cy="853.2" r="3.6"/><circle cx="1775.4" cy="846.6" r="3.6"/><circle cx="1777.6" cy="846.6" r="3.6"/><circle cx="1779.8" cy="846.6" r="3.6"/><circle cx="1782.0" cy="846.6" r="3.6"/><circle cx="1784.2" cy="843.6" r="3.6"/><circle cx="1786.5" cy="840.7" r="3.6"/><circle cx="1788.7" cy="837.7" r="3.6"/><circle cx="1790.9" cy="835.8" r="3.6"/><circle cx="1793.1" cy="834.0" r="3.6"/><circle cx="1795.3" cy="832.1" r="3.6"/><circle cx="1797.5" cy="832.7" r="3.6"/><circle cx="1799.8" cy="833.2" r="3.6"/><circle cx="1803.1" cy="842.1" r="3.6"/><circle cx="1805.8" cy="839.4" r="3.6"/><circle cx="1808.6" cy="836.6" r="3.6"/><circle cx="1812.0" cy="845.4" r="3.6"/><circle cx="1814.8" cy="845.4" r="3.6"/><circle cx="1817.5" cy="845.4" r="3.6"/><circle cx="1820.8" cy="844.3" r="3.6"/><circle cx="1823.0" cy="841.0" r="3.6"/><circle cx="1825.3" cy="837.7" r="3.6"/><circle cx="1827.5" cy="834.4" r="3.6"/><circle cx="1830.8" cy="828.8" r="3.6"/><circle cx="1833.6" cy="822.7" r="3.6"/><circle cx="1836.4" cy="816.6" r="3.6"/><circle cx="1839.2" cy="818.8" r="3.6"/><circle cx="1841.9" cy="821.0" r="3.6"/><circle cx="1844.2" cy="823.8" r="3.6"/><circle cx="1846.4" cy="826.6" r="3.6"/><circle cx="1848.6" cy="822.7" r="3.6"/><circle cx="1850.8" cy="818.8" r="3.6"/><circle cx="1851.9" cy="805.5" r="3.6"/><circle cx="1855.2" cy="802.2" r="3.6"/><circle cx="1856.5" cy="796.6" r="3.6"/></g>
<polyline points="1094.6,999.0 1203.3,999.0 1204.6,748.9 1205.5,630.4 1208.1,600.5 1212.5,600.5 1213.4,623.4 1216.9,635.7 1221.3,604.0 1224.8,697.1 1228.3,629.5 1234.4,672.5 1237.1,640.9 1240.6,640.0 1243.2,650.6 1247.6,640.0 1250.2,722.6 1253.7,659.4 1257.3,671.7 1260.8,662.9 1266.9,692.7 1270.4,665.5 1276.6,690.1 1280.1,667.3 1284.5,667.3 1287.1,640.0 1293.3,675.2 1296.8,662.0 1302.9,691.0 1311.7,676.0 1316.1,652.3 1319.6,673.4 1324.0,674.3 1325.7,682.2 1332.8,681.3 1335.4,712.9 1338.9,723.5 1345.0,712.9 1345.9,665.5 1353.0,699.7 1355.6,691.0 1359.1,700.6 1362.6,662.9 1368.8,708.5 1373.2,701.5 1374.9,711.2 1379.1,717.2 1382.2,706.1 1389.3,682.7 1392.4,737.6 1395.4,715.2 1399.5,717.2 1402.5,698.9 1406.6,715.2 1411.7,740.6 1418.8,692.8 1423.9,704.0 1427.9,721.3 1431.0,714.2 1435.0,729.4 1441.1,694.9 1444.2,717.2 1448.3,689.8 1452.3,707.1 1455.4,709.1 1458.4,721.3 1460.4,711.1 1464.5,715.2 1467.6,690.8 1471.6,688.8 1473.7,735.5 1474.7,792.4 1477.7,831.1 1480.8,799.6 1490.5,842.1 1494.4,834.4 1498.8,845.4 1503.3,845.4 1504.9,837.7 1511.0,857.1 1517.7,849.9 1524.4,836.6 1529.3,862.1 1533.2,838.8 1538.8,834.4 1545.4,826.6 1553.2,804.4 1556.5,825.5 1563.2,810.0 1566.5,826.6 1575.4,837.7 1579.8,827.7 1583.1,842.1 1592.0,849.9 1595.3,838.8 1605.3,852.1 1610.9,839.9 1615.3,852.1 1627.5,843.2 1636.4,851.0 1639.7,835.5 1643.0,848.8 1651.9,851.0 1656.4,836.6 1660.8,834.4 1664.4,841.0 1675.5,864.3 1678.9,848.8 1688.8,835.5 1692.2,852.1 1698.3,836.6 1701.6,849.9 1706.6,843.2 1715.5,833.2 1726.6,832.1 1734.3,828.8 1741.0,832.1 1746.5,847.7 1754.3,853.2 1760.9,847.7 1770.9,822.2 1776.5,831.0 1777.6,841.0 1790.9,813.3 1795.3,826.6 1799.8,827.7 1806.4,851.0 1813.1,842.1 1818.6,838.8 1823.1,839.9 1830.8,826.6 1835.3,825.5 1843.0,844.3 1850.8,828.8 1855.2,837.7" fill="none" stroke="#d94f45" stroke-width="5.5" stroke-linejoin="round" stroke-linecap="butt"/>
</g>
<g clip-path="url(#k16)">
<polyline points="1094.6,999.0 1203.3,999.0 1204.6,748.9 1205.5,630.4 1208.1,600.5 1212.5,600.5 1213.4,623.4 1216.9,635.7 1221.3,604.0 1224.8,697.1 1228.3,629.5 1234.4,672.5 1237.1,640.9 1240.6,640.0 1243.2,650.6 1247.6,640.0 1250.2,722.6 1253.7,659.4 1257.3,671.7 1260.8,662.9 1266.9,692.7 1270.4,665.5 1276.6,690.1 1280.1,667.3 1284.5,667.3 1287.1,640.0 1293.3,675.2 1296.8,662.0 1302.9,691.0 1311.7,676.0 1316.1,652.3 1319.6,673.4 1324.0,674.3 1325.7,682.2 1332.8,681.3 1335.4,712.9 1338.9,723.5 1345.0,712.9 1345.9,665.5 1353.0,699.7 1355.6,691.0 1359.1,700.6 1362.6,662.9 1368.8,708.5 1373.2,701.5 1374.9,711.2 1379.1,717.2 1382.2,706.1 1389.3,682.7 1392.4,737.6 1395.4,715.2 1399.5,717.2 1402.5,698.9 1406.6,715.2 1411.7,740.6 1418.8,692.8 1423.9,704.0 1427.9,721.3 1431.0,714.2 1435.0,729.4 1441.1,694.9 1444.2,717.2 1448.3,689.8 1452.3,707.1 1455.4,709.1 1458.4,721.3 1460.4,711.1 1464.5,715.2 1467.6,690.8 1471.6,688.8 1473.7,735.5 1474.7,792.4 1477.7,831.1 1480.8,799.6 1490.5,842.1 1494.4,834.4 1498.8,845.4 1503.3,845.4 1504.9,837.7 1511.0,857.1 1517.7,849.9 1524.4,836.6 1529.3,862.1 1533.2,838.8 1538.8,834.4 1545.4,826.6 1553.2,804.4 1556.5,825.5 1563.2,810.0 1566.5,826.6 1575.4,837.7 1579.8,827.7 1583.1,842.1 1592.0,849.9 1595.3,838.8 1605.3,852.1 1610.9,839.9 1615.3,852.1 1627.5,843.2 1636.4,851.0 1639.7,835.5 1643.0,848.8 1651.9,851.0 1656.4,836.6 1660.8,834.4 1664.4,841.0 1675.5,864.3 1678.9,848.8 1688.8,835.5 1692.2,852.1 1698.3,836.6 1701.6,849.9 1706.6,843.2 1715.5,833.2 1726.6,832.1 1734.3,828.8 1741.0,832.1 1746.5,847.7 1754.3,853.2 1760.9,847.7 1770.9,822.2 1776.5,831.0 1777.6,841.0 1790.9,813.3 1795.3,826.6 1799.8,827.7 1806.4,851.0 1813.1,842.1 1818.6,838.8 1823.1,839.9 1830.8,826.6 1835.3,825.5 1843.0,844.3 1850.8,828.8 1855.2,837.7" fill="none" stroke="#e0803e" stroke-width="5.5" stroke-linejoin="round" stroke-linecap="butt"/>
</g>
<g clip-path="url(#k17)">
<polyline points="1094.6,999.0 1203.3,999.0 1204.6,748.9 1205.5,630.4 1208.1,600.5 1212.5,600.5 1213.4,623.4 1216.9,635.7 1221.3,604.0 1224.8,697.1 1228.3,629.5 1234.4,672.5 1237.1,640.9 1240.6,640.0 1243.2,650.6 1247.6,640.0 1250.2,722.6 1253.7,659.4 1257.3,671.7 1260.8,662.9 1266.9,692.7 1270.4,665.5 1276.6,690.1 1280.1,667.3 1284.5,667.3 1287.1,640.0 1293.3,675.2 1296.8,662.0 1302.9,691.0 1311.7,676.0 1316.1,652.3 1319.6,673.4 1324.0,674.3 1325.7,682.2 1332.8,681.3 1335.4,712.9 1338.9,723.5 1345.0,712.9 1345.9,665.5 1353.0,699.7 1355.6,691.0 1359.1,700.6 1362.6,662.9 1368.8,708.5 1373.2,701.5 1374.9,711.2 1379.1,717.2 1382.2,706.1 1389.3,682.7 1392.4,737.6 1395.4,715.2 1399.5,717.2 1402.5,698.9 1406.6,715.2 1411.7,740.6 1418.8,692.8 1423.9,704.0 1427.9,721.3 1431.0,714.2 1435.0,729.4 1441.1,694.9 1444.2,717.2 1448.3,689.8 1452.3,707.1 1455.4,709.1 1458.4,721.3 1460.4,711.1 1464.5,715.2 1467.6,690.8 1471.6,688.8 1473.7,735.5 1474.7,792.4 1477.7,831.1 1480.8,799.6 1490.5,842.1 1494.4,834.4 1498.8,845.4 1503.3,845.4 1504.9,837.7 1511.0,857.1 1517.7,849.9 1524.4,836.6 1529.3,862.1 1533.2,838.8 1538.8,834.4 1545.4,826.6 1553.2,804.4 1556.5,825.5 1563.2,810.0 1566.5,826.6 1575.4,837.7 1579.8,827.7 1583.1,842.1 1592.0,849.9 1595.3,838.8 1605.3,852.1 1610.9,839.9 1615.3,852.1 1627.5,843.2 1636.4,851.0 1639.7,835.5 1643.0,848.8 1651.9,851.0 1656.4,836.6 1660.8,834.4 1664.4,841.0 1675.5,864.3 1678.9,848.8 1688.8,835.5 1692.2,852.1 1698.3,836.6 1701.6,849.9 1706.6,843.2 1715.5,833.2 1726.6,832.1 1734.3,828.8 1741.0,832.1 1746.5,847.7 1754.3,853.2 1760.9,847.7 1770.9,822.2 1776.5,831.0 1777.6,841.0 1790.9,813.3 1795.3,826.6 1799.8,827.7 1806.4,851.0 1813.1,842.1 1818.6,838.8 1823.1,839.9 1830.8,826.6 1835.3,825.5 1843.0,844.3 1850.8,828.8 1855.2,837.7" fill="none" stroke="#c0415a" stroke-width="5.5" stroke-linejoin="round" stroke-linecap="butt"/>
</g>
<line x1="1094.9" y1="1000.0" x2="1856.8" y2="1000.0" stroke="#262626" stroke-width="1.8"/>
<line x1="1923" y1="1003.4" x2="1953" y2="1003.4" stroke="#d0d0d0" stroke-width="1"/></svg>
</body></html>
